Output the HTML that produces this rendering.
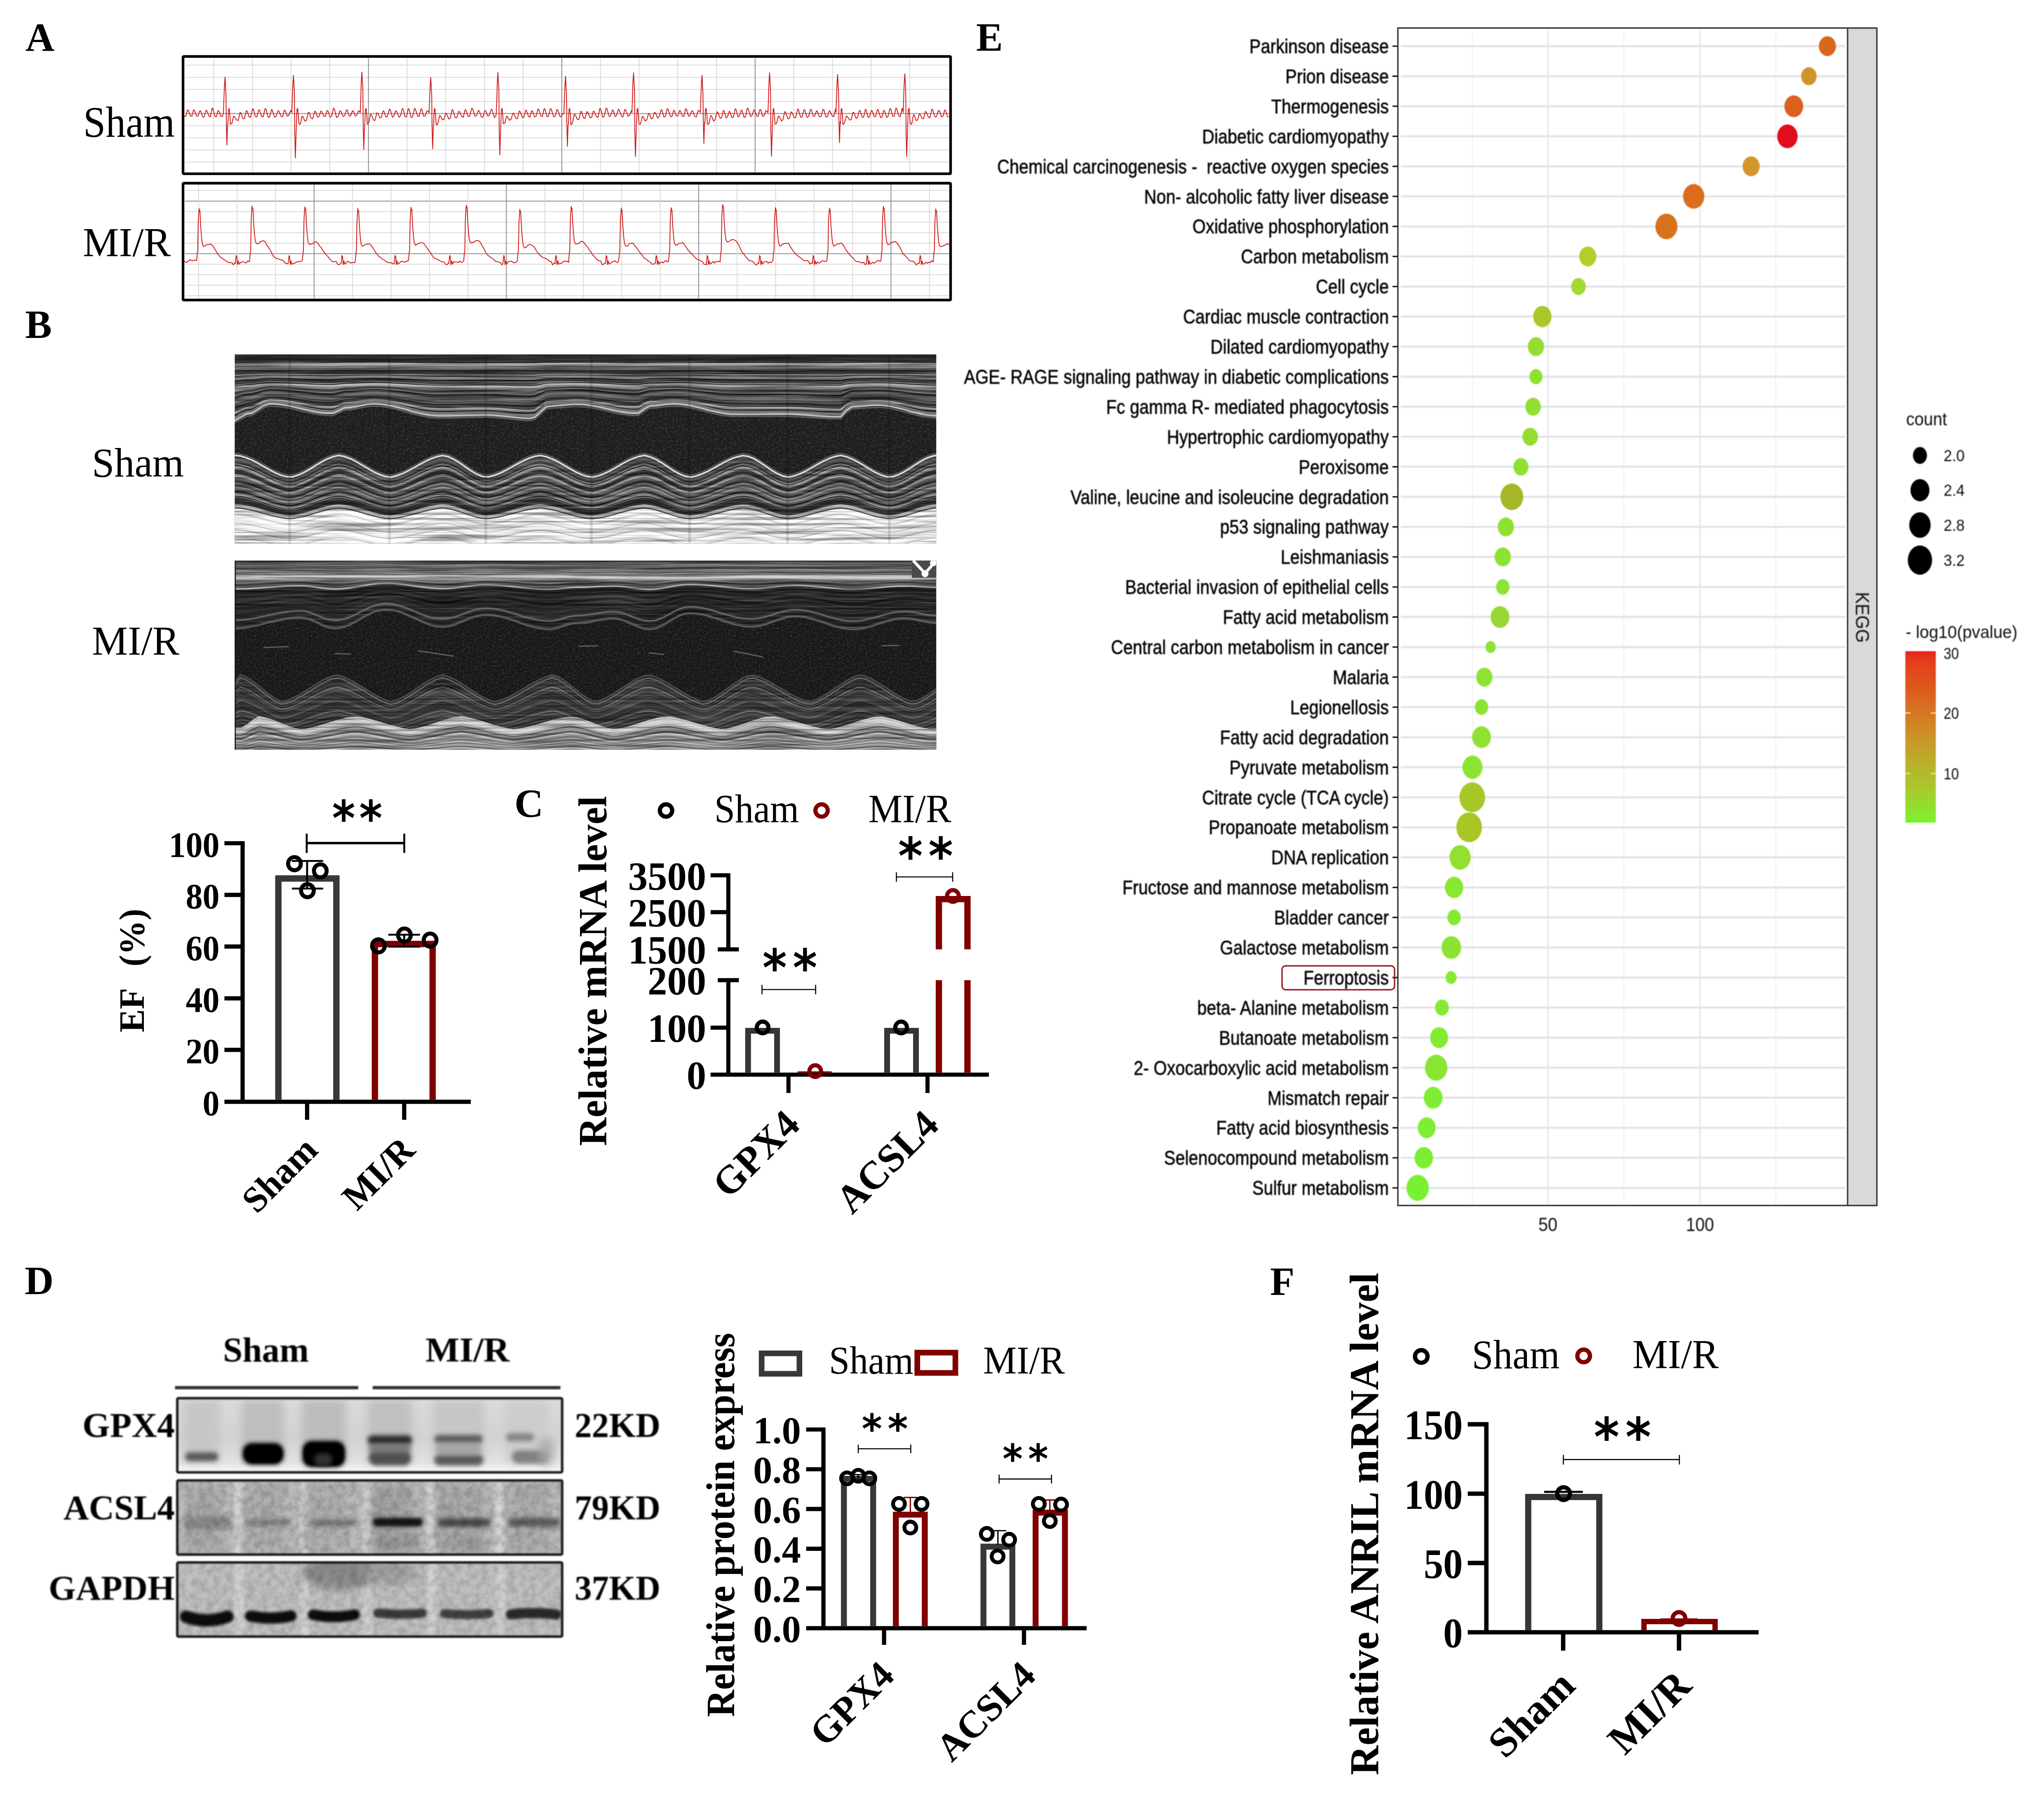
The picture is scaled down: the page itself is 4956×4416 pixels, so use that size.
<!DOCTYPE html>
<html lang="en"><head><meta charset="utf-8"><title>Figure</title>
<style>
html,body{margin:0;padding:0;background:#fff}
svg{display:block}
</style></head><body>
<svg width="4956" height="4416" viewBox="0 0 4956 4416">
<rect width="4956" height="4416" fill="#fff"/>
<!-- Panel A: ECG -->
<g id="panelA">
<text x="62" y="123" font-family='"Liberation Serif",serif' font-size="97" font-weight="bold">A</text>
<text x="202" y="332" font-family='"Liberation Serif",serif' font-size="106" textLength="222" lengthAdjust="spacingAndGlyphs">Sham</text>
<text x="201" y="621" font-family='"Liberation Serif",serif' font-size="100" textLength="213" lengthAdjust="spacingAndGlyphs">MI/R</text>
<path d="M449 158H2303" stroke="#d9d9d9" stroke-width="2"/>
<path d="M449 187.4H2303" stroke="#d9d9d9" stroke-width="2"/>
<path d="M449 216.8H2303" stroke="#d9d9d9" stroke-width="2"/>
<path d="M449 246.2H2303" stroke="#d9d9d9" stroke-width="2"/>
<path d="M449 275.6H2303" stroke="#8a8a8a" stroke-width="2"/>
<path d="M449 305H2303" stroke="#d9d9d9" stroke-width="2"/>
<path d="M449 334.4H2303" stroke="#d9d9d9" stroke-width="2"/>
<path d="M449 363.8H2303" stroke="#d9d9d9" stroke-width="2"/>
<path d="M449 393.2H2303" stroke="#d9d9d9" stroke-width="2"/>
<path d="M518.6 141V417.6" stroke="#d9d9d9" stroke-width="2"/>
<path d="M612.4 141V417.6" stroke="#d9d9d9" stroke-width="2"/>
<path d="M706.2 141V417.6" stroke="#d9d9d9" stroke-width="2"/>
<path d="M800 141V417.6" stroke="#d9d9d9" stroke-width="2"/>
<path d="M893.8 141V417.6" stroke="#8a8a8a" stroke-width="2"/>
<path d="M987.6 141V417.6" stroke="#d9d9d9" stroke-width="2"/>
<path d="M1081.4 141V417.6" stroke="#d9d9d9" stroke-width="2"/>
<path d="M1175.2 141V417.6" stroke="#d9d9d9" stroke-width="2"/>
<path d="M1269 141V417.6" stroke="#d9d9d9" stroke-width="2"/>
<path d="M1362.8 141V417.6" stroke="#8a8a8a" stroke-width="2"/>
<path d="M1456.6 141V417.6" stroke="#d9d9d9" stroke-width="2"/>
<path d="M1550.4 141V417.6" stroke="#d9d9d9" stroke-width="2"/>
<path d="M1644.2 141V417.6" stroke="#d9d9d9" stroke-width="2"/>
<path d="M1738 141V417.6" stroke="#d9d9d9" stroke-width="2"/>
<path d="M1831.8 141V417.6" stroke="#8a8a8a" stroke-width="2"/>
<path d="M1925.6 141V417.6" stroke="#d9d9d9" stroke-width="2"/>
<path d="M2019.4 141V417.6" stroke="#d9d9d9" stroke-width="2"/>
<path d="M2113.2 141V417.6" stroke="#d9d9d9" stroke-width="2"/>
<path d="M2207 141V417.6" stroke="#d9d9d9" stroke-width="2"/>
<path d="M447 281.6 L450.5 282.6 L454.6 266.7 L456.6 267.7 L461.9 281.2 L465.4 282 L469.4 266.4 L471.4 267.4 L476.6 281.4 L480.1 281.7 L484.9 268.5 L486.9 269.5 L491.6 283.5 L495.1 283.8 L499.7 267.4 L501.7 268.4 L506.7 281.2 L510.2 283.4 L514.5 262.2 L516.5 263.2 L521.3 282.2 L524.8 283.3 L528.9 268.2 L530.9 269.2 L536.3 282.5 L539.8 282.2 L542 273 L543 245 L544.5 207 L546 187 L547.2 212 L548.2 227 L549 292 L549.5 312 L550.5 352 L552 302 L553 300 L554.5 265 L556 263 L558 283 L559 301.7 L562.5 299.7 L566.8 282 L568.8 283 L574.2 291.2 L577.7 292.2 L582.4 273 L584.4 274 L589.3 287.7 L592.8 288.1 L597.5 268.6 L599.5 269.6 L604.4 283.8 L607.9 284 L612.7 264 L614.7 265 L619.4 282.3 L622.9 283.8 L627.7 266.5 L629.7 267.5 L635 282.8 L638.5 283.3 L643.1 263.3 L645.1 264.3 L650.5 284.6 L654 284.1 L658.5 266 L660.5 267 L666 283.9 L669.5 282.7 L674.5 268.7 L676.5 269.7 L682.2 282.6 L685.7 282.7 L689.7 267.1 L691.7 268.1 L696.9 281.5 L700.4 280.3 L705.2 267.9 L708 273 L709 245 L710.5 203 L712 183 L713.2 208 L714.2 223 L715 323 L715.5 343 L716.5 383 L718 333 L719 300 L720.5 265 L722 263 L724 283 L725 300.6 L728.5 301.5 L732.6 281.7 L734.6 282.7 L739.8 293.7 L743.3 292.5 L748.1 272.5 L750.1 273.5 L755 287 L758.5 288.1 L763.5 269.8 L765.5 270.8 L770.2 284.2 L773.7 283.2 L778.2 269.6 L780.2 270.6 L785.6 282.2 L789.1 282.8 L793.5 268.1 L795.5 269.1 L800.8 284.3 L804.3 282.6 L808.9 262.8 L810.9 263.8 L816.4 284.9 L819.9 283.4 L824.8 268.8 L826.8 269.8 L832.5 282.7 L836 280.5 L840.6 266.4 L842.6 267.4 L847.2 281.9 L850.7 280.7 L855.1 268.6 L857.1 269.6 L861.7 281.6 L865.2 280.4 L869.5 269 L871.5 270 L874 273 L875 245 L876.5 195 L878 175 L879.2 200 L880.2 215 L881 303 L881.5 323 L882.5 363 L884 313 L885 300 L886.5 265 L888 263 L890 283 L891 301.5 L894.5 298.6 L898.8 277.3 L900.8 278.3 L905.8 290.7 L909.3 292.6 L914.3 273.8 L916.3 274.8 L921.5 285.9 L925 284.9 L929.3 269.2 L931.3 270.2 L936.2 284 L939.7 282.4 L944.7 265 L946.7 266 L951.9 284.3 L955.4 281.2 L960 268.9 L962 269.9 L967.9 284.3 L971.4 281.6 L975.8 263.4 L977.8 264.4 L982.6 283.4 L986.1 283.4 L990.4 263.8 L992.4 264.8 L997.2 285.1 L1000.7 283.6 L1005.5 263.4 L1007.5 264.4 L1013.3 282 L1016.8 282.1 L1021.1 263.9 L1023.1 264.9 L1027.7 282.2 L1031.2 281.1 L1035.9 268.8 L1037.9 269.8 L1041 273 L1042 245 L1043.5 208 L1045 188 L1046.2 213 L1047.2 228 L1048 301 L1048.5 321 L1049.5 361 L1051 311 L1052 300 L1053.5 265 L1055 263 L1057 283 L1058 302.7 L1061.5 302 L1066.5 280.3 L1068.5 281.3 L1073.5 290.8 L1077 289.7 L1081.2 274.6 L1083.2 275.6 L1088.6 288.8 L1092.1 286.4 L1096.8 266.3 L1098.8 267.3 L1104.5 285.8 L1108 285.8 L1112.8 270.1 L1114.8 271.1 L1120.4 282.8 L1123.9 284.2 L1128.2 266.5 L1130.2 267.5 L1135.9 283.1 L1139.4 282.1 L1144.4 262.6 L1146.4 263.6 L1152 281.8 L1155.5 280.9 L1160.4 268 L1162.4 269 L1168.1 284.4 L1171.6 284 L1176.2 268.1 L1178.2 269.1 L1183.3 281.6 L1186.8 280.1 L1191.7 265.2 L1193.7 266.2 L1199.2 284.8 L1202.7 281.8 L1204 273 L1205 245 L1206.5 196 L1208 176 L1209.2 201 L1210.2 216 L1211 316 L1211.5 336 L1212.5 376 L1214 326 L1215 300 L1216.5 265 L1218 263 L1220 283 L1221 300 L1224.5 299.2 L1228.7 281.9 L1230.7 282.9 L1236.1 291.7 L1239.6 289.6 L1244.5 274.4 L1246.5 275.4 L1251.6 287.8 L1255.1 288.1 L1259.5 269.4 L1261.5 270.4 L1267.4 285.3 L1270.9 284.3 L1274.9 267.2 L1276.9 268.2 L1282 282.1 L1285.5 284.3 L1289.7 268.6 L1291.7 269.6 L1296.9 283.8 L1300.4 281.9 L1304.9 264.4 L1306.9 265.4 L1312.3 281.7 L1315.8 282.5 L1320 263.7 L1322 264.7 L1326.9 283.2 L1330.4 282.4 L1335.2 263.7 L1337.2 264.7 L1343.1 283.5 L1346.6 282.1 L1351.1 266 L1353.1 267 L1358.6 283.2 L1362.1 281.9 L1368 273 L1369 245 L1370.5 205 L1372 185 L1373.2 210 L1374.2 225 L1375 295 L1375.5 315 L1376.5 355 L1378 305 L1379 300 L1380.5 265 L1382 263 L1384 283 L1385 302.8 L1388.5 299 L1393.1 277.3 L1395.1 278.3 L1401 290.3 L1404.5 289.2 L1408.9 270.1 L1410.9 271.1 L1415.5 285.8 L1419 287.2 L1423.8 270.9 L1425.8 271.9 L1431.7 286 L1435.2 284.8 L1439.3 269.6 L1441.3 270.6 L1447.1 282.9 L1450.6 284.9 L1455 263.1 L1457 264.1 L1462.3 284.9 L1465.8 281.2 L1470.2 262.5 L1472.2 263.5 L1477.5 282.1 L1481 281.5 L1485.7 266.8 L1487.7 267.8 L1492.2 282.9 L1495.7 280.2 L1500 265.2 L1502 266.2 L1507.5 281.3 L1511 284 L1515.8 265.5 L1517.8 266.5 L1523.7 282.1 L1527.2 280.2 L1532 268.3 L1533 273 L1534 245 L1535.5 197 L1537 177 L1538.2 202 L1539.2 217 L1540 320 L1540.5 340 L1541.5 380 L1543 330 L1544 300 L1545.5 265 L1547 263 L1549 283 L1550 300.7 L1553.5 301.6 L1558.3 282.5 L1560.3 283.5 L1565.2 293.7 L1568.7 291.3 L1573.4 275.2 L1575.4 276.2 L1580 288.3 L1583.5 286.3 L1587.6 272.3 L1589.6 273.3 L1595.5 286.5 L1599 282.6 L1603.9 266.4 L1605.9 267.4 L1610.5 284 L1614 282.5 L1618.5 263.9 L1620.5 264.9 L1626.4 282.1 L1629.9 282.7 L1634.2 267.6 L1636.2 268.6 L1640.8 281.5 L1644.3 281.1 L1648.6 268.1 L1650.6 269.1 L1655.6 282.3 L1659.1 282.1 L1663.3 263.8 L1665.3 264.8 L1670.3 282.1 L1673.8 280.1 L1678.5 268.9 L1680.5 269.9 L1685.9 282.9 L1689.4 283.8 L1693.5 267.7 L1695.5 268.7 L1699 273 L1700 245 L1701.5 203 L1703 183 L1704.2 208 L1705.2 223 L1706 288 L1706.5 308 L1707.5 348 L1709 298 L1710 300 L1711.5 265 L1713 263 L1715 283 L1716 301 L1719.5 301.3 L1723.9 280.4 L1725.9 281.4 L1731.2 294 L1734.7 290.4 L1739.5 271.4 L1741.5 272.4 L1747 287 L1750.5 285.8 L1754.6 268.1 L1756.6 269.1 L1761.3 286.3 L1764.8 283.3 L1769 270.3 L1771 271.3 L1775.6 285.7 L1779.1 283.9 L1783.4 264.1 L1785.4 265.1 L1790.2 283.5 L1793.7 281.2 L1798.2 267.4 L1800.2 268.4 L1805.1 285.2 L1808.6 282.5 L1812.8 262.5 L1814.8 263.5 L1820.8 282.6 L1824.3 280.2 L1828.6 267 L1830.6 268 L1835.9 281.9 L1839.4 282.1 L1843.4 265.5 L1845.4 266.5 L1850.3 282.6 L1853.8 280.2 L1857.8 268.4 L1859.8 269.4 L1863 273 L1864 245 L1865.5 197 L1867 177 L1868.2 202 L1869.2 217 L1870 319 L1870.5 339 L1871.5 379 L1873 329 L1874 300 L1875.5 265 L1877 263 L1879 283 L1880 301.3 L1883.5 300.1 L1888.3 281.8 L1890.3 282.8 L1895.7 293.3 L1899.2 290.4 L1903.6 271 L1905.6 272 L1911.5 288.2 L1915 286.9 L1919.1 271.4 L1921.1 272.4 L1926.8 285.7 L1930.3 285.1 L1935.1 264.5 L1937.1 265.5 L1941.9 284.1 L1945.4 284.4 L1950.2 266.2 L1952.2 267.2 L1957.9 285.1 L1961.4 283.3 L1966.1 265.3 L1968.1 266.3 L1972.9 281.8 L1976.4 281.7 L1980.5 269 L1982.5 270 L1988.3 283.6 L1991.8 282.6 L1996.5 265.2 L1998.5 266.2 L2003.7 284.3 L2007.2 283.1 L2011.7 269 L2013.7 270 L2019 281.3 L2022.5 283 L2026.8 264.4 L2028 273 L2029 245 L2030.5 201 L2032 181 L2033.2 206 L2034.2 221 L2035 286 L2035.5 306 L2036.5 346 L2038 296 L2039 300 L2040.5 265 L2042 263 L2044 283 L2045 301.9 L2048.5 298.8 L2053.2 281.5 L2055.2 282.5 L2061.2 291.1 L2064.7 290.5 L2069.4 272.4 L2071.4 273.4 L2077 287.8 L2080.5 284.5 L2084.7 268 L2086.7 269 L2091.6 284.4 L2095.1 284.4 L2099.1 265.5 L2101.1 266.5 L2105.7 284.8 L2109.2 283.9 L2113.8 268 L2115.8 269 L2120.8 283.4 L2124.3 282.4 L2128.4 265.8 L2130.4 266.8 L2136.2 285.2 L2139.7 284 L2143.8 267.8 L2145.8 268.8 L2150.9 285 L2154.4 281.9 L2158.7 263.4 L2160.7 264.4 L2165.5 281.9 L2169 282.4 L2173.2 262.4 L2175.2 263.4 L2180.5 281.6 L2184 283.3 L2188.5 262.4 L2191 273 L2192 245 L2193.5 199 L2195 179 L2196.2 204 L2197.2 219 L2198 320 L2198.5 340 L2199.5 380 L2201 330 L2202 300 L2203.5 265 L2205 263 L2207 283 L2208 299.9 L2211.5 301.6 L2216 278.5 L2218 279.5 L2222.5 292.3 L2226 291.1 L2230.3 276.4 L2232.3 277.4 L2237 287.1 L2240.5 288.2 L2244.5 270.4 L2246.5 271.4 L2252.2 283.9 L2255.7 286.1 L2260.4 265.1 L2262.4 266.1 L2268.2 283.7 L2271.7 282.7 L2276.7 267.9 L2278.7 268.9 L2284.1 283.3 L2287.6 281.7 L2291.7 266.9 L2293.7 267.9 L2298.3 282.4 L2301.8 284" fill="none" stroke="#cf1616" stroke-width="2" stroke-linejoin="round"/>
<rect x="444" y="137" width="1862" height="284.6" fill="none" stroke="#000" stroke-width="6.4" rx="2"/>
<path d="M449 462H2303" stroke="#d9d9d9" stroke-width="2"/>
<path d="M449 488H2303" stroke="#8a8a8a" stroke-width="2"/>
<path d="M449 513.5H2303" stroke="#d9d9d9" stroke-width="2"/>
<path d="M449 539H2303" stroke="#d9d9d9" stroke-width="2"/>
<path d="M449 564.5H2303" stroke="#d9d9d9" stroke-width="2"/>
<path d="M449 590H2303" stroke="#d9d9d9" stroke-width="2"/>
<path d="M449 615.5H2303" stroke="#8a8a8a" stroke-width="2"/>
<path d="M449 641H2303" stroke="#d9d9d9" stroke-width="2"/>
<path d="M449 666.5H2303" stroke="#d9d9d9" stroke-width="2"/>
<path d="M449 692H2303" stroke="#d9d9d9" stroke-width="2"/>
<path d="M449 717.5H2303" stroke="#d9d9d9" stroke-width="2"/>
<path d="M482 448V724" stroke="#d9d9d9" stroke-width="2"/>
<path d="M575.3 448V724" stroke="#d9d9d9" stroke-width="2"/>
<path d="M668.6 448V724" stroke="#d9d9d9" stroke-width="2"/>
<path d="M761.9 448V724" stroke="#8a8a8a" stroke-width="2"/>
<path d="M855.2 448V724" stroke="#d9d9d9" stroke-width="2"/>
<path d="M948.5 448V724" stroke="#d9d9d9" stroke-width="2"/>
<path d="M1041.8 448V724" stroke="#d9d9d9" stroke-width="2"/>
<path d="M1135.1 448V724" stroke="#d9d9d9" stroke-width="2"/>
<path d="M1228.4 448V724" stroke="#8a8a8a" stroke-width="2"/>
<path d="M1321.7 448V724" stroke="#d9d9d9" stroke-width="2"/>
<path d="M1415 448V724" stroke="#d9d9d9" stroke-width="2"/>
<path d="M1508.3 448V724" stroke="#d9d9d9" stroke-width="2"/>
<path d="M1601.6 448V724" stroke="#d9d9d9" stroke-width="2"/>
<path d="M1694.9 448V724" stroke="#8a8a8a" stroke-width="2"/>
<path d="M1788.2 448V724" stroke="#d9d9d9" stroke-width="2"/>
<path d="M1881.5 448V724" stroke="#d9d9d9" stroke-width="2"/>
<path d="M1974.8 448V724" stroke="#d9d9d9" stroke-width="2"/>
<path d="M2068.1 448V724" stroke="#d9d9d9" stroke-width="2"/>
<path d="M2161.4 448V724" stroke="#8a8a8a" stroke-width="2"/>
<path d="M2254.7 448V724" stroke="#d9d9d9" stroke-width="2"/>
<path d="M447 634 L452 637 L456 634 L461 630 L466 633 L472 631 L477 632 L478.5 614 L479.5 610 L481 536 L483 506 L484 512 L485 511 L487 551 L489 576 L491 592 L494 598 L498 596.1 L502 593.6 L507 593.4 L511 592.2 L515 594.9 L519 600.4 L523 607.2 L527 614.4 L531 619.7 L535 624.7 L539 626.2 L543 630.1 L547 632.2 L551 635.1 L555 637.1 L559 637.2 L562.5 637.3 L566 642.6 L569.5 637.8 L571 639 L573 620 L574.5 622 L576 642 L578 633 L580 641 L583.5 637.2 L587 635.9 L590.5 635.1 L594 637.2 L597.5 638 L601 633.2 L604.5 635 L605.5 632 L607 614 L608 610 L609.5 530 L611.5 500 L612.5 506 L613.5 505 L615.5 545 L617.5 570 L619.5 586 L622.5 591.4 L626.5 591.2 L630.5 587.7 L635.5 585 L639.5 584 L643.5 587.1 L647.5 595.2 L651.5 600 L655.5 606.6 L659.5 614.7 L663.5 621.8 L667.5 625.3 L671.5 627 L675.5 628.6 L679.5 629.5 L683.5 631.3 L687.5 631.7 L691 638.4 L694.5 638.6 L698 640.4 L699.1 639 L701.1 620 L702.6 622 L704.1 642 L706.1 633 L708.1 641 L711.6 639.7 L715.1 638.3 L718.6 635.7 L722.1 635.2 L725.6 635.3 L729.1 633.9 L732.6 633.1 L733.5 632 L735 614 L736 610 L737.5 532 L739.5 502 L740.5 508 L741.5 507 L743.5 547 L745.5 572 L747.5 588 L750.5 592.7 L754.5 592.3 L758.5 591.4 L763.5 586.9 L767.5 587 L771.5 590.4 L775.5 597.1 L779.5 601.1 L783.5 608.4 L787.5 613.6 L791.5 618.5 L795.5 622.6 L799.5 628.1 L803.5 632.1 L807.5 635.5 L811.5 634.9 L815.5 634.5 L819 641.3 L822.5 642.4 L826 639.8 L827.5 639 L829.5 620 L831 622 L832.5 642 L834.5 633 L836.5 641 L840 637.9 L843.5 633.8 L847 635.6 L850.5 638.3 L854 637.1 L857.5 636.8 L861 636.9 L862 632 L863.5 614 L864.5 610 L866 536 L868 506 L869 512 L870 511 L872 551 L874 576 L876 592 L879 597.2 L883 595.8 L887 593 L892 592.1 L896 591.5 L900 595.3 L904 600.7 L908 606.4 L912 613.7 L916 618.7 L920 623.3 L924 624.9 L928 629.3 L932 630.6 L936 634.5 L940 636.6 L944 636.9 L947.5 637.8 L951 638.5 L954.5 640.8 L956.3 639 L958.3 620 L959.8 622 L961.3 642 L963.3 633 L965.3 641 L968.8 638.6 L972.3 634.5 L975.8 633.7 L979.3 635.9 L982.8 635.7 L986.3 634 L989.8 632.5 L991 632 L992.5 614 L993.5 610 L995 533 L997 503 L998 509 L999 508 L1001 548 L1003 573 L1005 589 L1008 595.3 L1012 592.5 L1016 590.4 L1021 588.9 L1025 589.4 L1029 591.4 L1033 598.2 L1037 602.9 L1041 609.1 L1045 614.1 L1049 621.1 L1053 625.9 L1057 628.1 L1061 628.9 L1065 631.4 L1069 634.1 L1073 635.3 L1077 635.7 L1080.5 641 L1084 642.6 L1087.5 638.4 L1088.8 639 L1090.8 620 L1092.3 622 L1093.8 642 L1095.8 633 L1097.8 641 L1101.3 634.6 L1104.8 635.9 L1108.3 635.9 L1111.8 637 L1115.3 633.5 L1118.8 636.6 L1122.3 635.7 L1125 632 L1126.5 614 L1127.5 610 L1129 528 L1131 498 L1132 504 L1133 503 L1135 543 L1137 568 L1139 584 L1142 590 L1146 588.1 L1150 587.4 L1155 583.4 L1159 584 L1163 585.2 L1167 591.2 L1171 598.8 L1175 605.2 L1179 613.8 L1183 619 L1187 622 L1191 624.7 L1195 627.6 L1199 631 L1203 634.9 L1207 634.9 L1211 635.9 L1214.5 638.3 L1218 642.8 L1220 639 L1222 620 L1223.5 622 L1225 642 L1227 633 L1229 641 L1232.5 635.2 L1236 634.2 L1239.5 633.7 L1243 635.1 L1246.5 637.6 L1250 637 L1253.5 635.6 L1255 632 L1256.5 614 L1257.5 610 L1259 538 L1261 508 L1262 514 L1263 513 L1265 553 L1267 578 L1269 594 L1272 601.5 L1276 600.3 L1280 595.5 L1285 593.1 L1289 594.3 L1293 596.7 L1297 600.6 L1301 608.5 L1305 613.8 L1309 618.5 L1313 622.2 L1317 624.6 L1321 625.9 L1325 628 L1329 630.1 L1333 634.2 L1337 634.2 L1340.5 642.8 L1344 638.2 L1347.5 639.1 L1346.2 639 L1348.2 620 L1349.7 622 L1351.2 642 L1353.2 633 L1355.2 641 L1358.7 639.2 L1362.2 638.7 L1365.7 635.8 L1369.2 632.9 L1372.7 634.9 L1376.2 633.7 L1379.7 636.5 L1379.6 632 L1381.1 614 L1382.1 610 L1383.6 531 L1385.6 501 L1386.6 507 L1387.6 506 L1389.6 546 L1391.6 571 L1393.6 587 L1396.6 592.1 L1400.6 591.6 L1404.6 590.2 L1409.6 585.6 L1413.6 585.7 L1417.6 589.9 L1421.6 595.8 L1425.6 599.6 L1429.6 606.7 L1433.6 611.4 L1437.6 618.7 L1441.6 622.1 L1445.6 626.8 L1449.6 631.3 L1453.6 632.7 L1457.6 633.6 L1461.1 642.7 L1464.6 640.7 L1468.1 638.6 L1468.6 639 L1470.6 620 L1472.1 622 L1473.6 642 L1475.6 633 L1477.6 641 L1481.1 638.6 L1484.6 635.6 L1488.1 634.8 L1491.6 632.6 L1495.1 636.5 L1498.6 636.9 L1501 632 L1502.5 614 L1503.5 610 L1505 535 L1507 505 L1508 511 L1509 510 L1511 550 L1513 575 L1515 591 L1518 597.4 L1522 597.3 L1526 591.6 L1531 590.2 L1535 589.9 L1539 594.4 L1543 600.4 L1547 604.7 L1551 610.8 L1555 616.3 L1559 621 L1563 626.7 L1567 628.3 L1571 632.1 L1575 635 L1579 637.7 L1582.5 641.6 L1586 640.6 L1589.5 639 L1589.7 639 L1591.7 620 L1593.2 622 L1594.7 642 L1596.7 633 L1598.7 641 L1602.2 636.2 L1605.7 635.9 L1609.2 637.8 L1612.7 633 L1616.2 633.1 L1619.7 635.9 L1622 632 L1623.5 614 L1624.5 610 L1626 534 L1628 504 L1629 510 L1630 509 L1632 549 L1634 574 L1636 590 L1639 595.2 L1643 593.7 L1647 590.6 L1652 590.2 L1656 588.5 L1660 593.4 L1664 599.2 L1668 605.5 L1672 610 L1676 614.3 L1680 617.8 L1684 622.3 L1688 626.8 L1692 629.5 L1696 630.8 L1700 632.6 L1704 634.9 L1707.5 641 L1711 641.5 L1714.5 642.1 L1713.5 639 L1715.5 620 L1717 622 L1718.5 642 L1720.5 633 L1722.5 641 L1726 638.3 L1729.5 634.5 L1733 638.2 L1736.5 634.4 L1740 635.5 L1743.5 633.8 L1747 635.4 L1747 632 L1748.5 614 L1749.5 610 L1751 526 L1753 496 L1754 502 L1755 501 L1757 541 L1759 566 L1761 582 L1764 587.1 L1768 586.2 L1772 583.2 L1777 581 L1781 582.2 L1785 584.2 L1789 589.5 L1793 595.7 L1797 606.4 L1801 613 L1805 617.3 L1809 623.1 L1813 627.2 L1817 632 L1821 632.4 L1825 634.1 L1829 637 L1832.5 642 L1836 642.5 L1839.5 637.2 L1840.6 639 L1842.6 620 L1844.1 622 L1845.6 642 L1847.6 633 L1849.6 641 L1853.1 636.1 L1856.6 634.5 L1860.1 634.4 L1863.6 638.6 L1867.1 635.7 L1870.6 637.2 L1874.1 633.3 L1875 632 L1876.5 614 L1877.5 610 L1879 534 L1881 504 L1882 510 L1883 509 L1885 549 L1887 574 L1889 590 L1892 597.1 L1896 594.8 L1900 591.3 L1905 590.8 L1909 590.3 L1913 590.8 L1917 598.3 L1921 604.4 L1925 609.9 L1929 615.3 L1933 618.8 L1937 621.9 L1941 624.7 L1945 628.3 L1949 631.5 L1953 632.4 L1957 632.3 L1961 633.5 L1964.5 641.1 L1968 638.1 L1971.5 638.9 L1970.7 639 L1972.7 620 L1974.2 622 L1975.7 642 L1977.7 633 L1979.7 641 L1983.2 635.6 L1986.7 638.6 L1990.2 636.6 L1993.7 633.2 L1997.2 632.9 L2000.7 634.1 L2004.2 634.5 L2006 632 L2007.5 614 L2008.5 610 L2010 535 L2012 505 L2013 511 L2014 510 L2016 550 L2018 575 L2020 591 L2023 597.4 L2027 594.8 L2031 592 L2036 591.6 L2040 589.7 L2044 592.3 L2048 598.4 L2052 606.4 L2056 611 L2060 617 L2064 621.1 L2068 624.7 L2072 629.4 L2076 633.8 L2080 634.9 L2084 635.1 L2088 637.4 L2092 637.2 L2095.5 637 L2099 642.4 L2102.5 639.5 L2101.7 639 L2103.7 620 L2105.2 622 L2106.7 642 L2108.7 633 L2110.7 641 L2114.2 639.3 L2117.7 636.3 L2121.2 638.6 L2124.7 635.6 L2128.2 633.2 L2131.7 631.8 L2135.2 634.5 L2137 632 L2138.5 614 L2139.5 610 L2141 531 L2143 501 L2144 507 L2145 506 L2147 546 L2149 571 L2151 587 L2154 593.4 L2158 593.2 L2162 587.8 L2167 587.4 L2171 585.6 L2175 589 L2179 593.9 L2183 600.3 L2187 608.6 L2191 616.5 L2195 619.6 L2199 623.8 L2203 628.4 L2207 632.9 L2211 633.4 L2215 633.6 L2219 637 L2222.5 642.9 L2226 639.9 L2229.5 637.3 L2229.9 639 L2231.9 620 L2233.4 622 L2234.9 642 L2236.9 633 L2238.9 641 L2242.4 639.9 L2245.9 636.1 L2249.4 638.7 L2252.9 636.4 L2256.4 637.1 L2259.9 632.6 L2263.4 635.8 L2264 632 L2265.5 614 L2266.5 610 L2268 537 L2270 507 L2271 513 L2272 512 L2274 552 L2276 577 L2278 593 L2281 598.2 L2285 597.7 L2289 596 L2294 594 L2298 591 L2302 594.2" fill="none" stroke="#cf1616" stroke-width="2" stroke-linejoin="round"/>
<rect x="444" y="444.5" width="1862" height="283.5" fill="none" stroke="#000" stroke-width="6.4" rx="2"/>
</g>
<!-- Panel B -->
<g id="panelB">
<text x="61" y="820" font-family='"Liberation Serif",serif' font-size="97" font-weight="bold">B</text>
<text x="223" y="1156" font-family='"Liberation Serif",serif' font-size="100" textLength="223" lengthAdjust="spacingAndGlyphs">Sham</text>
<text x="223" y="1588" font-family='"Liberation Serif",serif' font-size="100" textLength="212" lengthAdjust="spacingAndGlyphs">MI/R</text>
<defs>
<clipPath id="cpS"><rect x="569.5" y="859.8" width="1701.8" height="458.8"/></clipPath>
<path id="sLw" d="M499.5 -26.5 L513.5 -26.5 L527.5 -26.5 L541.5 -26.5 L555.5 -26.5 L569.5 -26.5 L583.5 -25 L597.5 -20.9 L611.5 -15 L625.5 -7.7 L639.5 0.3 L653.5 8.3 L667.5 15.5 L681.5 21.3 L695.5 25.3 L709.5 25.4 L723.5 21.1 L737.5 14.7 L751.5 6.8 L765.5 -1.9 L779.5 -10.3 L793.5 -17.7 L807.5 -23.2 L821.5 -26.4 L835.5 -23.7 L849.5 -18.6 L863.5 -11.7 L877.5 -3.6 L891.5 4.8 L905.5 12.7 L919.5 19.4 L933.5 24.2 L947.5 26.2 L961.5 23 L975.5 18 L989.5 11.3 L1003.5 3.7 L1017.5 -4.3 L1031.5 -11.8 L1045.5 -18.4 L1059.5 -23.3 L1073.5 -26.3 L1087.5 -23.3 L1101.5 -16.8 L1115.5 -8.1 L1129.5 1.8 L1143.5 11.4 L1157.5 19.4 L1171.5 24.9 L1185.5 25.5 L1199.5 21.8 L1213.5 16.3 L1227.5 9.4 L1241.5 1.7 L1255.5 -6.2 L1269.5 -13.5 L1283.5 -19.7 L1297.5 -24.2 L1311.5 -26.3 L1325.5 -23.1 L1339.5 -17.9 L1353.5 -10.9 L1367.5 -3 L1381.5 5.3 L1395.5 13.1 L1409.5 19.6 L1423.5 24.3 L1437.5 26.2 L1451.5 22.9 L1465.5 17.8 L1479.5 11 L1493.5 3.2 L1507.5 -4.9 L1521.5 -12.5 L1535.5 -19 L1549.5 -23.8 L1563.5 -26.4 L1577.5 -22.8 L1591.5 -16.6 L1605.5 -8.3 L1619.5 1 L1633.5 10.2 L1647.5 18.1 L1661.5 23.8 L1675.5 26.2 L1689.5 23.1 L1703.5 18.1 L1717.5 11.7 L1731.5 4.2 L1745.5 -3.6 L1759.5 -11.2 L1773.5 -17.7 L1787.5 -22.8 L1801.5 -26 L1815.5 -24 L1829.5 -18.1 L1843.5 -9.9 L1857.5 -0.3 L1871.5 9.3 L1885.5 17.6 L1899.5 23.7 L1913.5 26.2 L1927.5 22.9 L1941.5 17.8 L1955.5 11 L1969.5 3.2 L1983.5 -4.9 L1997.5 -12.5 L2011.5 -19 L2025.5 -23.8 L2039.5 -26.4 L2053.5 -23.2 L2067.5 -17.7 L2081.5 -10.3 L2095.5 -1.9 L2109.5 6.8 L2123.5 14.7 L2137.5 21.1 L2151.5 25.4 L2165.5 25 L2179.5 20.3 L2193.5 13.2 L2207.5 4.6 L2221.5 -4.6 L2235.5 -13.2 L2249.5 -20.3 L2263.5 -25 L2271.3 -26.5" fill="none" vector-effect="non-scaling-stroke"/>
<path id="sUw" d="M499.5 25 L513.5 25 L527.5 25 L541.5 25 L555.5 25 L569.5 24.4 L583.5 16.3 L597.5 9.2 L611.5 6.4 L625.5 -2.1 L639.5 -11.4 L653.5 -16 L667.5 -15.6 L681.5 -14.3 L695.5 -12.1 L709.5 -9.2 L723.5 -6 L737.5 -2.6 L751.5 0.6 L765.5 3.4 L779.5 5.5 L793.5 6.7 L807.5 6.7 L821.5 0.9 L835.5 -6 L849.5 -7.3 L863.5 -9.3 L877.5 -12.4 L891.5 -15 L905.5 -16 L919.5 -15.4 L933.5 -13.9 L947.5 -11.4 L961.5 -8.2 L975.5 -4.6 L989.5 -0.7 L1003.5 3.2 L1017.5 6.7 L1031.5 9.6 L1045.5 11.7 L1059.5 12.8 L1073.5 13 L1087.5 12.9 L1101.5 12.6 L1115.5 12.2 L1129.5 11.8 L1143.5 11.5 L1157.5 11.2 L1171.5 11 L1185.5 11.1 L1199.5 11.6 L1213.5 12.7 L1227.5 14.2 L1241.5 15.8 L1255.5 17.3 L1269.5 18.4 L1283.5 18.9 L1297.5 16.3 L1311.5 3.5 L1325.5 -8.9 L1339.5 -11.1 L1353.5 -11.9 L1367.5 -13.1 L1381.5 -14.3 L1395.5 -15 L1409.5 -14.7 L1423.5 -13.5 L1437.5 -11.4 L1451.5 -8.7 L1465.5 -5.5 L1479.5 -2.2 L1493.5 0.9 L1507.5 3.6 L1521.5 5.6 L1535.5 6.8 L1549.5 6.2 L1563.5 -3.7 L1577.5 -11 L1591.5 -11.7 L1605.5 -13.5 L1619.5 -15.3 L1633.5 -16 L1647.5 -15.4 L1661.5 -13.8 L1675.5 -11.4 L1689.5 -8.2 L1703.5 -4.7 L1717.5 -1 L1731.5 2.4 L1745.5 5.3 L1759.5 7.5 L1773.5 8.8 L1787.5 9 L1801.5 9 L1815.5 9 L1829.5 9 L1843.5 9 L1857.5 9 L1871.5 9 L1885.5 9 L1899.5 9 L1913.5 9.1 L1927.5 9.6 L1941.5 10.2 L1955.5 11.1 L1969.5 12 L1983.5 12.9 L1997.5 13.8 L2011.5 14.4 L2025.5 14.9 L2039.5 15 L2053.5 0 L2067.5 -9 L2081.5 -9.7 L2095.5 -11 L2109.5 -12.3 L2123.5 -13 L2137.5 -12.7 L2151.5 -11.3 L2165.5 -8.9 L2179.5 -5.7 L2193.5 -2.1 L2207.5 1.8 L2221.5 5.5 L2235.5 8.7 L2249.5 11.1 L2263.5 12.6 L2271.3 13" fill="none" vector-effect="non-scaling-stroke"/>
<filter id="fStreak" x="0" y="0" width="100%" height="100%" color-interpolation-filters="sRGB">
<feTurbulence type="fractalNoise" baseFrequency="0.004 0.16" numOctaves="3" seed="5" result="n"/>
<feColorMatrix in="n" type="matrix" values="0 0 0 0 0  0 0 0 0 0  0 0 0 0 0  3.2 0 0 0 -1.35"/>
</filter>
<filter id="fStreakW" x="0" y="0" width="100%" height="100%" color-interpolation-filters="sRGB">
<feTurbulence type="fractalNoise" baseFrequency="0.005 0.2" numOctaves="2" seed="11" result="n"/>
<feColorMatrix in="n" type="matrix" values="0 0 0 0 1  0 0 0 0 1  0 0 0 0 1  2.6 0 0 0 -1.3"/>
</filter>
<filter id="fSpeck" x="0" y="0" width="100%" height="100%" color-interpolation-filters="sRGB">
<feTurbulence type="fractalNoise" baseFrequency="0.22 0.22" numOctaves="2" seed="2" result="n"/>
<feColorMatrix in="n" type="matrix" values="0 0 0 0 1  0 0 0 0 1  0 0 0 0 1  1.6 0 0 0 -0.72"/>
</filter>
</defs>
<g clip-path="url(#cpS)">
<rect x="569.5" y="859.8" width="1701.8" height="458.8" fill="#5c5c5c"/>
<rect x="569.5" y="859.8" width="1701.8" height="22" fill="#2e2e2e"/>
<use href="#sUw" transform="translate(0,862.8) scale(1,0.00)" stroke="#2c2c2c" stroke-width="3.5"/>
<use href="#sUw" transform="translate(0,865.9) scale(1,0.00)" stroke="#232323" stroke-width="2.9"/>
<use href="#sUw" transform="translate(0,868.6) scale(1,0.00)" stroke="#272727" stroke-width="3.2"/>
<use href="#sUw" transform="translate(0,871.4) scale(1,0.00)" stroke="#272727" stroke-width="2.2"/>
<use href="#sUw" transform="translate(0,873.4) scale(1,0.00)" stroke="#111111" stroke-width="4.3"/>
<use href="#sUw" transform="translate(0,877.2) scale(1,0.00)" stroke="#535353" stroke-width="2.6"/>
<use href="#sUw" transform="translate(0,879.6) scale(1,0.00)" stroke="#2c2c2c" stroke-width="2.5"/>
<use href="#sUw" transform="translate(0,881.8) scale(1,0.00)" stroke="#585858" stroke-width="3.2"/>
<use href="#sUw" transform="translate(0,884.7) scale(1,0.00)" stroke="#a8a8a8" stroke-width="3.4"/>
<use href="#sUw" transform="translate(0,887.7) scale(1,0.00)" stroke="#848484" stroke-width="3.6"/>
<use href="#sUw" transform="translate(0,891) scale(1,0.00)" stroke="#404040" stroke-width="2.6"/>
<use href="#sUw" transform="translate(0,893.3) scale(1,0.00)" stroke="#404040" stroke-width="4.2"/>
<use href="#sUw" transform="translate(0,897) scale(1,0.00)" stroke="#383838" stroke-width="3"/>
<use href="#sUw" transform="translate(0,899.7) scale(1,0.01)" stroke="#202020" stroke-width="3.7"/>
<use href="#sUw" transform="translate(0,903) scale(1,0.03)" stroke="#303030" stroke-width="2.4"/>
<use href="#sUw" transform="translate(0,905.2) scale(1,0.04)" stroke="#484848" stroke-width="2.1"/>
<use href="#sUw" transform="translate(0,907.1) scale(1,0.05)" stroke="#1c1c1c" stroke-width="2.1"/>
<use href="#sUw" transform="translate(0,909) scale(1,0.07)" stroke="#a8a8a8" stroke-width="2.7"/>
<use href="#sUw" transform="translate(0,911.4) scale(1,0.08)" stroke="#484848" stroke-width="3.8"/>
<use href="#sUw" transform="translate(0,914.8) scale(1,0.11)" stroke="#848484" stroke-width="3.8"/>
<use href="#sUw" transform="translate(0,918.2) scale(1,0.13)" stroke="#848484" stroke-width="3"/>
<use href="#sUw" transform="translate(0,920.9) scale(1,0.15)" stroke="#1c1c1c" stroke-width="3.4"/>
<use href="#sUw" transform="translate(0,924) scale(1,0.18)" stroke="#404040" stroke-width="4.2"/>
<use href="#sUw" transform="translate(0,927.8) scale(1,0.21)" stroke="#303030" stroke-width="2.1"/>
<use href="#sUw" transform="translate(0,929.6) scale(1,0.22)" stroke="#989898" stroke-width="2.5"/>
<use href="#sUw" transform="translate(0,931.9) scale(1,0.24)" stroke="#282828" stroke-width="3.1"/>
<use href="#sUw" transform="translate(0,934.7) scale(1,0.27)" stroke="#282828" stroke-width="4.1"/>
<use href="#sUw" transform="translate(0,938.4) scale(1,0.30)" stroke="#848484" stroke-width="3.3"/>
<use href="#sUw" transform="translate(0,941.4) scale(1,0.33)" stroke="#848484" stroke-width="3.4"/>
<use href="#sUw" transform="translate(0,944.5) scale(1,0.36)" stroke="#383838" stroke-width="3.5"/>
<use href="#sUw" transform="translate(0,947.6) scale(1,0.39)" stroke="#484848" stroke-width="2.6"/>
<use href="#sUw" transform="translate(0,949.9) scale(1,0.41)" stroke="#707070" stroke-width="3.7"/>
<use href="#sUw" transform="translate(0,953.2) scale(1,0.45)" stroke="#202020" stroke-width="4.1"/>
<use href="#sUw" transform="translate(0,957) scale(1,0.48)" stroke="#484848" stroke-width="3.7"/>
<use href="#sUw" transform="translate(0,960.3) scale(1,0.52)" stroke="#404040" stroke-width="3.7"/>
<use href="#sUw" transform="translate(0,963.6) scale(1,0.55)" stroke="#707070" stroke-width="4.4"/>
<use href="#sUw" transform="translate(0,967.6) scale(1,0.59)" stroke="#484848" stroke-width="3.4"/>
<use href="#sUw" transform="translate(0,970.7) scale(1,0.63)" stroke="#585858" stroke-width="3.6"/>
<use href="#sUw" transform="translate(0,974) scale(1,0.66)" stroke="#282828" stroke-width="4.1"/>
<use href="#sUw" transform="translate(0,977.6) scale(1,0.70)" stroke="#484848" stroke-width="2.7"/>
<use href="#sUw" transform="translate(0,980) scale(1,0.73)" stroke="#303030" stroke-width="2.2"/>
<use href="#sUw" transform="translate(0,982) scale(1,0.75)" stroke="#a8a8a8" stroke-width="3.6"/>
<use href="#sUw" transform="translate(0,985.2) scale(1,0.79)" stroke="#989898" stroke-width="2.2"/>
<use href="#sUw" transform="translate(0,987.2) scale(1,0.81)" stroke="#1c1c1c" stroke-width="2.2"/>
<use href="#sUw" transform="translate(0,989.2) scale(1,0.84)" stroke="#404040" stroke-width="2.1"/>
<use href="#sUw" transform="translate(0,991) scale(1,0.86)" stroke="#848484" stroke-width="3.9"/>
<use href="#sUw" transform="translate(0,994.5) scale(1,0.90)" stroke="#a8a8a8" stroke-width="2.3"/>
<use href="#sUw" transform="translate(0,996.6) scale(1,0.92)" stroke="#484848" stroke-width="3.5"/>
<use href="#sUw" transform="translate(0,884) scale(1,0.03)" stroke="#a8a8a8" stroke-width="7"/>
<use href="#sUw" transform="translate(0,891) scale(1,0.03)" stroke="#7a7a7a" stroke-width="5"/>
<use href="#sUw" transform="translate(0,935) scale(1,0.22)" stroke="#b4b4b4" stroke-width="5"/>
<use href="#sUw" transform="translate(0,960) scale(1,0.5)" stroke="#6e6e6e" stroke-width="4"/>
<use href="#sLw" transform="translate(0,1122.5) scale(1,1.00)" stroke="#202020" stroke-width="2.9"/>
<use href="#sLw" transform="translate(0,1125.2) scale(1,1.00)" stroke="#383838" stroke-width="2.8"/>
<use href="#sLw" transform="translate(0,1127.7) scale(1,1.00)" stroke="#606060" stroke-width="3.3"/>
<use href="#sLw" transform="translate(0,1130.6) scale(1,0.99)" stroke="#202020" stroke-width="2.8"/>
<use href="#sLw" transform="translate(0,1133.1) scale(1,0.98)" stroke="#303030" stroke-width="2.3"/>
<use href="#sLw" transform="translate(0,1135.2) scale(1,0.97)" stroke="#484848" stroke-width="2.1"/>
<use href="#sLw" transform="translate(0,1137) scale(1,0.96)" stroke="#505050" stroke-width="4.4"/>
<use href="#sLw" transform="translate(0,1141) scale(1,0.95)" stroke="#606060" stroke-width="3.5"/>
<use href="#sLw" transform="translate(0,1144.2) scale(1,0.93)" stroke="#404040" stroke-width="3.7"/>
<use href="#sLw" transform="translate(0,1147.6) scale(1,0.92)" stroke="#1c1c1c" stroke-width="2.8"/>
<use href="#sLw" transform="translate(0,1150.1) scale(1,0.91)" stroke="#747474" stroke-width="4.4"/>
<use href="#sLw" transform="translate(0,1154.1) scale(1,0.89)" stroke="#1c1c1c" stroke-width="2.9"/>
<use href="#sLw" transform="translate(0,1156.7) scale(1,0.88)" stroke="#a0a0a0" stroke-width="4.2"/>
<use href="#sLw" transform="translate(0,1160.5) scale(1,0.86)" stroke="#888888" stroke-width="3.6"/>
<use href="#sLw" transform="translate(0,1163.7) scale(1,0.85)" stroke="#383838" stroke-width="3.7"/>
<use href="#sLw" transform="translate(0,1167.1) scale(1,0.83)" stroke="#303030" stroke-width="3.6"/>
<use href="#sLw" transform="translate(0,1170.3) scale(1,0.82)" stroke="#282828" stroke-width="3.3"/>
<use href="#sLw" transform="translate(0,1173.2) scale(1,0.81)" stroke="#888888" stroke-width="3.6"/>
<use href="#sLw" transform="translate(0,1176.4) scale(1,0.79)" stroke="#b8b8b8" stroke-width="2.6"/>
<use href="#sLw" transform="translate(0,1178.8) scale(1,0.78)" stroke="#606060" stroke-width="3.1"/>
<use href="#sLw" transform="translate(0,1181.5) scale(1,0.77)" stroke="#606060" stroke-width="3.3"/>
<use href="#sLw" transform="translate(0,1184.5) scale(1,0.76)" stroke="#484848" stroke-width="2.8"/>
<use href="#sLw" transform="translate(0,1187.1) scale(1,0.75)" stroke="#282828" stroke-width="3"/>
<use href="#sLw" transform="translate(0,1189.8) scale(1,0.73)" stroke="#383838" stroke-width="2.8"/>
<use href="#sLw" transform="translate(0,1192.3) scale(1,0.72)" stroke="#888888" stroke-width="3.5"/>
<use href="#sLw" transform="translate(0,1195.5) scale(1,0.71)" stroke="#585858" stroke-width="2.3"/>
<use href="#sLw" transform="translate(0,1197.6) scale(1,0.70)" stroke="#585858" stroke-width="3.6"/>
<use href="#sLw" transform="translate(0,1200.8) scale(1,0.69)" stroke="#a0a0a0" stroke-width="2.9"/>
<use href="#sLw" transform="translate(0,1203.4) scale(1,0.68)" stroke="#747474" stroke-width="3.5"/>
<use href="#sLw" transform="translate(0,1206.6) scale(1,0.66)" stroke="#606060" stroke-width="3.8"/>
<use href="#sLw" transform="translate(0,1210) scale(1,0.65)" stroke="#202020" stroke-width="3.5"/>
<use href="#sLw" transform="translate(0,1213.2) scale(1,0.63)" stroke="#585858" stroke-width="2.1"/>
<use href="#sLw" transform="translate(0,1215) scale(1,0.63)" stroke="#747474" stroke-width="2.6"/>
<use href="#sLw" transform="translate(0,1217.4) scale(1,0.62)" stroke="#a0a0a0" stroke-width="2.7"/>
<use href="#sLw" transform="translate(0,1219.9) scale(1,0.61)" stroke="#383838" stroke-width="2.8"/>
<use href="#sLw" transform="translate(0,1222.4) scale(1,0.59)" stroke="#747474" stroke-width="2.5"/>
<use href="#sLw" transform="translate(0,1224.6) scale(1,0.58)" stroke="#282828" stroke-width="2.9"/>
<use href="#sLw" transform="translate(0,1227.2) scale(1,0.57)" stroke="#383838" stroke-width="2.7"/>
<use href="#sLw" transform="translate(0,1229.6) scale(1,0.56)" stroke="#282828" stroke-width="2.9"/>
<use href="#sLw" transform="translate(0,1232.3) scale(1,0.55)" stroke="#282828" stroke-width="4"/>
<use href="#sLw" transform="translate(0,1235.9) scale(1,0.54)" stroke="#383838" stroke-width="3.7"/>
<use href="#sLw" transform="translate(0,1239.2) scale(1,0.52)" stroke="#404040" stroke-width="2.8"/>
<use href="#sLw" transform="translate(0,1241.7) scale(1,0.51)" stroke="#505050" stroke-width="3.6"/>
<use href="#sLw" transform="translate(0,1245) scale(1,0.50)" stroke="#606060" stroke-width="2.6"/>
<use href="#sLw" transform="translate(0,1247.3) scale(1,0.49)" stroke="#404040" stroke-width="3.7"/>
<use href="#sLw" transform="translate(0,1250.7) scale(1,0.47)" stroke="#585858" stroke-width="3.7"/>
<use href="#sLw" transform="translate(0,1254) scale(1,0.46)" stroke="#303030" stroke-width="3.5"/>
<use href="#sLw" transform="translate(0,1257.2) scale(1,0.45)" stroke="#747474" stroke-width="3.7"/>
<use href="#sLw" transform="translate(0,1260.5) scale(1,0.45)" stroke="#505050" stroke-width="3.1"/>
<use href="#sLw" transform="translate(0,1263.3) scale(1,0.45)" stroke="#1c1c1c" stroke-width="4.4"/>
<use href="#sLw" transform="translate(0,1267.3) scale(1,0.45)" stroke="#303030" stroke-width="2.8"/>
<use href="#sLw" transform="translate(0,1269.8) scale(1,0.45)" stroke="#585858" stroke-width="2.5"/>
<use href="#sLw" transform="translate(0,1272.1) scale(1,0.45)" stroke="#383838" stroke-width="3.1"/>
<use href="#sLw" transform="translate(0,1274.9) scale(1,0.45)" stroke="#505050" stroke-width="4"/>
<use href="#sLw" transform="translate(0,1278.5) scale(1,0.45)" stroke="#202020" stroke-width="3.3"/>
<use href="#sLw" transform="translate(0,1281.5) scale(1,0.45)" stroke="#505050" stroke-width="2.8"/>
<use href="#sLw" transform="translate(0,1284) scale(1,0.45)" stroke="#1c1c1c" stroke-width="4.1"/>
<use href="#sLw" transform="translate(0,1287.7) scale(1,0.45)" stroke="#404040" stroke-width="4.2"/>
<use href="#sLw" transform="translate(0,1291.4) scale(1,0.45)" stroke="#747474" stroke-width="4"/>
<use href="#sLw" transform="translate(0,1295) scale(1,0.45)" stroke="#585858" stroke-width="2.2"/>
<use href="#sLw" transform="translate(0,1297) scale(1,0.45)" stroke="#383838" stroke-width="2.9"/>
<use href="#sLw" transform="translate(0,1299.6) scale(1,0.45)" stroke="#404040" stroke-width="3.1"/>
<use href="#sLw" transform="translate(0,1302.4) scale(1,0.45)" stroke="#484848" stroke-width="4"/>
<use href="#sLw" transform="translate(0,1305.9) scale(1,0.45)" stroke="#606060" stroke-width="3.2"/>
<use href="#sLw" transform="translate(0,1308.8) scale(1,0.45)" stroke="#585858" stroke-width="3"/>
<use href="#sLw" transform="translate(0,1311.5) scale(1,0.45)" stroke="#888888" stroke-width="3.4"/>
<use href="#sLw" transform="translate(0,1314.6) scale(1,0.45)" stroke="#202020" stroke-width="4.3"/>
<use href="#sLw" transform="translate(0,1318.5) scale(1,0.45)" stroke="#404040" stroke-width="2.5"/>
<use href="#sLw" transform="translate(0,1320.7) scale(1,0.45)" stroke="#a0a0a0" stroke-width="4.4"/>
<use href="#sLw" transform="translate(0,1324.6) scale(1,0.45)" stroke="#383838" stroke-width="4.5"/>
<use href="#sLw" transform="translate(0,1328.7) scale(1,0.45)" stroke="#888888" stroke-width="3.4"/>
<use href="#sLw" transform="translate(0,1331.7) scale(1,0.45)" stroke="#b8b8b8" stroke-width="2.6"/>
<use href="#sLw" transform="translate(0,1334) scale(1,0.45)" stroke="#b8b8b8" stroke-width="3.1"/>
<use href="#sLw" transform="translate(0,1336.8) scale(1,0.45)" stroke="#282828" stroke-width="3.7"/>
<use href="#sLw" transform="translate(0,1340.1) scale(1,0.45)" stroke="#484848" stroke-width="4.4"/>
<use href="#sLw" transform="translate(0,1344.1) scale(1,0.45)" stroke="#484848" stroke-width="2.9"/>
<use href="#sLw" transform="translate(0,1346.7) scale(1,0.45)" stroke="#505050" stroke-width="4.2"/>
<path d="M499.5 1234 L513.5 1234 L527.5 1234 L541.5 1234 L555.5 1234 L569.5 1234 L583.5 1234.7 L597.5 1236.7 L611.5 1239.6 L625.5 1243.2 L639.5 1247.1 L653.5 1251 L667.5 1254.6 L681.5 1257.4 L695.5 1259.4 L709.5 1259.4 L723.5 1257.3 L737.5 1254.2 L751.5 1250.3 L765.5 1246.1 L779.5 1241.9 L793.5 1238.3 L807.5 1235.6 L821.5 1234 L835.5 1235.4 L849.5 1237.9 L863.5 1241.3 L877.5 1245.2 L891.5 1249.4 L905.5 1253.2 L919.5 1256.5 L933.5 1258.9 L947.5 1259.8 L961.5 1258.3 L975.5 1255.8 L989.5 1252.5 L1003.5 1248.8 L1017.5 1244.9 L1031.5 1241.2 L1045.5 1238 L1059.5 1235.6 L1073.5 1234.1 L1087.5 1235.6 L1101.5 1238.8 L1115.5 1243 L1129.5 1247.9 L1143.5 1252.6 L1157.5 1256.5 L1171.5 1259.2 L1185.5 1259.5 L1199.5 1257.7 L1213.5 1255 L1227.5 1251.6 L1241.5 1247.8 L1255.5 1244 L1269.5 1240.4 L1283.5 1237.4 L1297.5 1235.2 L1311.5 1234.1 L1325.5 1235.7 L1339.5 1238.2 L1353.5 1241.6 L1367.5 1245.5 L1381.5 1249.6 L1395.5 1253.4 L1409.5 1256.6 L1423.5 1258.9 L1437.5 1259.8 L1451.5 1258.2 L1465.5 1255.7 L1479.5 1252.4 L1493.5 1248.6 L1507.5 1244.6 L1521.5 1240.9 L1535.5 1237.7 L1549.5 1235.3 L1563.5 1234.1 L1577.5 1235.8 L1591.5 1238.9 L1605.5 1242.9 L1619.5 1247.5 L1633.5 1252 L1647.5 1255.9 L1661.5 1258.7 L1675.5 1259.8 L1689.5 1258.3 L1703.5 1255.9 L1717.5 1252.7 L1731.5 1249.1 L1745.5 1245.2 L1759.5 1241.5 L1773.5 1238.3 L1787.5 1235.8 L1801.5 1234.3 L1815.5 1235.2 L1829.5 1238.1 L1843.5 1242.1 L1857.5 1246.8 L1871.5 1251.5 L1885.5 1255.6 L1899.5 1258.6 L1913.5 1259.8 L1927.5 1258.2 L1941.5 1255.7 L1955.5 1252.4 L1969.5 1248.6 L1983.5 1244.6 L1997.5 1240.9 L2011.5 1237.7 L2025.5 1235.3 L2039.5 1234 L2053.5 1235.6 L2067.5 1238.3 L2081.5 1241.9 L2095.5 1246.1 L2109.5 1250.3 L2123.5 1254.2 L2137.5 1257.3 L2151.5 1259.4 L2165.5 1259.3 L2179.5 1256.9 L2193.5 1253.5 L2207.5 1249.2 L2221.5 1244.8 L2235.5 1240.5 L2249.5 1237.1 L2263.5 1234.7 L2271.3 1234 L2271.3 1323.6 L569.5 1323.6Z" fill="#ececec"/>
<use href="#sLw" transform="translate(0,1252.5) scale(1,0.48)" stroke="#ffffff" stroke-width="8"/>
<use href="#sLw" transform="translate(0,1259.5) scale(1,0.46)" stroke="#d0d0d0" stroke-width="2.5"/>
<use href="#sLw" transform="translate(0,1266.5) scale(1,0.45)" stroke="#ffffff" stroke-width="7"/>
<use href="#sLw" transform="translate(0,1280.5) scale(1,0.42)" stroke="#c0c0c0" stroke-width="2"/>
<use href="#sLw" transform="translate(0,1286.5) scale(1,0.41)" stroke="#f6f6f6" stroke-width="8"/>
<use href="#sLw" transform="translate(0,1296.5) scale(1,0.39)" stroke="#b4b4b4" stroke-width="2"/>
<use href="#sLw" transform="translate(0,1302.5) scale(1,0.38)" stroke="#ffffff" stroke-width="9"/>
<use href="#sLw" transform="translate(0,1313.5) scale(1,0.36)" stroke="#c8c8c8" stroke-width="2.5"/>
<use href="#sLw" transform="translate(0,1320.5) scale(1,0.34)" stroke="#fafafa" stroke-width="8"/>
<use href="#sLw" transform="translate(0,1330.5) scale(1,0.32)" stroke="#bcbcbc" stroke-width="2"/>
<use href="#sLw" transform="translate(0,1336.5) scale(1,0.31)" stroke="#eeeeee" stroke-width="7"/>
<use href="#sLw" transform="translate(0,1344.5) scale(1,0.30)" stroke="#a8a8a8" stroke-width="2"/>
<use href="#sLw" transform="translate(0,1240.5) scale(1,0.51)" stroke="#b0b0b0" stroke-width="7"/>
<rect x="569.5" y="859.8" width="1701.8" height="458.8" fill="#000" filter="url(#fStreak)" opacity="0.38"/>
<rect x="569.5" y="859.8" width="1701.8" height="458.8" fill="#fff" filter="url(#fStreakW)" opacity="0.2"/>
<path d="M499.5 1028 L513.5 1028 L527.5 1028 L541.5 1028 L555.5 1028 L569.5 1027.4 L583.5 1019.3 L597.5 1012.2 L611.5 1009.4 L625.5 1000.9 L639.5 991.6 L653.5 987 L667.5 987.4 L681.5 988.7 L695.5 990.9 L709.5 993.8 L723.5 997 L737.5 1000.4 L751.5 1003.6 L765.5 1006.4 L779.5 1008.5 L793.5 1009.7 L807.5 1009.7 L821.5 1003.9 L835.5 997 L849.5 995.7 L863.5 993.7 L877.5 990.6 L891.5 988 L905.5 987 L919.5 987.6 L933.5 989.1 L947.5 991.6 L961.5 994.8 L975.5 998.4 L989.5 1002.3 L1003.5 1006.2 L1017.5 1009.7 L1031.5 1012.6 L1045.5 1014.7 L1059.5 1015.8 L1073.5 1016 L1087.5 1015.9 L1101.5 1015.6 L1115.5 1015.2 L1129.5 1014.8 L1143.5 1014.5 L1157.5 1014.2 L1171.5 1014 L1185.5 1014.1 L1199.5 1014.6 L1213.5 1015.7 L1227.5 1017.2 L1241.5 1018.8 L1255.5 1020.3 L1269.5 1021.4 L1283.5 1021.9 L1297.5 1019.3 L1311.5 1006.5 L1325.5 994.1 L1339.5 991.9 L1353.5 991.1 L1367.5 989.9 L1381.5 988.7 L1395.5 988 L1409.5 988.3 L1423.5 989.5 L1437.5 991.6 L1451.5 994.3 L1465.5 997.5 L1479.5 1000.8 L1493.5 1003.9 L1507.5 1006.6 L1521.5 1008.6 L1535.5 1009.8 L1549.5 1009.2 L1563.5 999.3 L1577.5 992 L1591.5 991.3 L1605.5 989.5 L1619.5 987.7 L1633.5 987 L1647.5 987.6 L1661.5 989.2 L1675.5 991.6 L1689.5 994.8 L1703.5 998.3 L1717.5 1002 L1731.5 1005.4 L1745.5 1008.3 L1759.5 1010.5 L1773.5 1011.8 L1787.5 1012 L1801.5 1012 L1815.5 1012 L1829.5 1012 L1843.5 1012 L1857.5 1012 L1871.5 1012 L1885.5 1012 L1899.5 1012 L1913.5 1012.1 L1927.5 1012.6 L1941.5 1013.2 L1955.5 1014.1 L1969.5 1015 L1983.5 1015.9 L1997.5 1016.8 L2011.5 1017.4 L2025.5 1017.9 L2039.5 1018 L2053.5 1003 L2067.5 994 L2081.5 993.3 L2095.5 992 L2109.5 990.7 L2123.5 990 L2137.5 990.3 L2151.5 991.7 L2165.5 994.1 L2179.5 997.3 L2193.5 1000.9 L2207.5 1004.8 L2221.5 1008.5 L2235.5 1011.7 L2249.5 1014.1 L2263.5 1015.6 L2271.3 1016 L2271.3 1102 L2263.5 1103.5 L2249.5 1108.2 L2235.5 1115.3 L2221.5 1123.9 L2207.5 1133.1 L2193.5 1141.7 L2179.5 1148.8 L2165.5 1153.5 L2151.5 1153.9 L2137.5 1149.6 L2123.5 1143.2 L2109.5 1135.3 L2095.5 1126.6 L2081.5 1118.2 L2067.5 1110.8 L2053.5 1105.3 L2039.5 1102.1 L2025.5 1104.7 L2011.5 1109.5 L1997.5 1116 L1983.5 1123.6 L1969.5 1131.7 L1955.5 1139.5 L1941.5 1146.3 L1927.5 1151.4 L1913.5 1154.7 L1899.5 1152.2 L1885.5 1146.1 L1871.5 1137.8 L1857.5 1128.2 L1843.5 1118.6 L1829.5 1110.4 L1815.5 1104.5 L1801.5 1102.5 L1787.5 1105.7 L1773.5 1110.8 L1759.5 1117.3 L1745.5 1124.9 L1731.5 1132.7 L1717.5 1140.2 L1703.5 1146.6 L1689.5 1151.6 L1675.5 1154.7 L1661.5 1152.3 L1647.5 1146.6 L1633.5 1138.7 L1619.5 1129.5 L1605.5 1120.2 L1591.5 1111.9 L1577.5 1105.7 L1563.5 1102.1 L1549.5 1104.7 L1535.5 1109.5 L1521.5 1116 L1507.5 1123.6 L1493.5 1131.7 L1479.5 1139.5 L1465.5 1146.3 L1451.5 1151.4 L1437.5 1154.7 L1423.5 1152.8 L1409.5 1148.1 L1395.5 1141.6 L1381.5 1133.8 L1367.5 1125.5 L1353.5 1117.6 L1339.5 1110.6 L1325.5 1105.4 L1311.5 1102.2 L1297.5 1104.3 L1283.5 1108.8 L1269.5 1115 L1255.5 1122.3 L1241.5 1130.2 L1227.5 1137.9 L1213.5 1144.8 L1199.5 1150.3 L1185.5 1154 L1171.5 1153.4 L1157.5 1147.9 L1143.5 1139.9 L1129.5 1130.3 L1115.5 1120.4 L1101.5 1111.7 L1087.5 1105.2 L1073.5 1102.2 L1059.5 1105.2 L1045.5 1110.1 L1031.5 1116.7 L1017.5 1124.2 L1003.5 1132.2 L989.5 1139.8 L975.5 1146.5 L961.5 1151.5 L947.5 1154.7 L933.5 1152.7 L919.5 1147.9 L905.5 1141.2 L891.5 1133.3 L877.5 1124.9 L863.5 1116.8 L849.5 1109.9 L835.5 1104.8 L821.5 1102.1 L807.5 1105.3 L793.5 1110.8 L779.5 1118.2 L765.5 1126.6 L751.5 1135.3 L737.5 1143.2 L723.5 1149.6 L709.5 1153.9 L695.5 1153.8 L681.5 1149.8 L667.5 1144 L653.5 1136.8 L639.5 1128.8 L625.5 1120.8 L611.5 1113.5 L597.5 1107.6 L583.5 1103.5 L569.5 1102 L555.5 1102 L541.5 1102 L527.5 1102 L513.5 1102 L499.5 1102Z" fill="#1d1d1d"/>
<clipPath id="cpSc"><path d="M499.5 1028 L513.5 1028 L527.5 1028 L541.5 1028 L555.5 1028 L569.5 1027.4 L583.5 1019.3 L597.5 1012.2 L611.5 1009.4 L625.5 1000.9 L639.5 991.6 L653.5 987 L667.5 987.4 L681.5 988.7 L695.5 990.9 L709.5 993.8 L723.5 997 L737.5 1000.4 L751.5 1003.6 L765.5 1006.4 L779.5 1008.5 L793.5 1009.7 L807.5 1009.7 L821.5 1003.9 L835.5 997 L849.5 995.7 L863.5 993.7 L877.5 990.6 L891.5 988 L905.5 987 L919.5 987.6 L933.5 989.1 L947.5 991.6 L961.5 994.8 L975.5 998.4 L989.5 1002.3 L1003.5 1006.2 L1017.5 1009.7 L1031.5 1012.6 L1045.5 1014.7 L1059.5 1015.8 L1073.5 1016 L1087.5 1015.9 L1101.5 1015.6 L1115.5 1015.2 L1129.5 1014.8 L1143.5 1014.5 L1157.5 1014.2 L1171.5 1014 L1185.5 1014.1 L1199.5 1014.6 L1213.5 1015.7 L1227.5 1017.2 L1241.5 1018.8 L1255.5 1020.3 L1269.5 1021.4 L1283.5 1021.9 L1297.5 1019.3 L1311.5 1006.5 L1325.5 994.1 L1339.5 991.9 L1353.5 991.1 L1367.5 989.9 L1381.5 988.7 L1395.5 988 L1409.5 988.3 L1423.5 989.5 L1437.5 991.6 L1451.5 994.3 L1465.5 997.5 L1479.5 1000.8 L1493.5 1003.9 L1507.5 1006.6 L1521.5 1008.6 L1535.5 1009.8 L1549.5 1009.2 L1563.5 999.3 L1577.5 992 L1591.5 991.3 L1605.5 989.5 L1619.5 987.7 L1633.5 987 L1647.5 987.6 L1661.5 989.2 L1675.5 991.6 L1689.5 994.8 L1703.5 998.3 L1717.5 1002 L1731.5 1005.4 L1745.5 1008.3 L1759.5 1010.5 L1773.5 1011.8 L1787.5 1012 L1801.5 1012 L1815.5 1012 L1829.5 1012 L1843.5 1012 L1857.5 1012 L1871.5 1012 L1885.5 1012 L1899.5 1012 L1913.5 1012.1 L1927.5 1012.6 L1941.5 1013.2 L1955.5 1014.1 L1969.5 1015 L1983.5 1015.9 L1997.5 1016.8 L2011.5 1017.4 L2025.5 1017.9 L2039.5 1018 L2053.5 1003 L2067.5 994 L2081.5 993.3 L2095.5 992 L2109.5 990.7 L2123.5 990 L2137.5 990.3 L2151.5 991.7 L2165.5 994.1 L2179.5 997.3 L2193.5 1000.9 L2207.5 1004.8 L2221.5 1008.5 L2235.5 1011.7 L2249.5 1014.1 L2263.5 1015.6 L2271.3 1016 L2271.3 1102 L2263.5 1103.5 L2249.5 1108.2 L2235.5 1115.3 L2221.5 1123.9 L2207.5 1133.1 L2193.5 1141.7 L2179.5 1148.8 L2165.5 1153.5 L2151.5 1153.9 L2137.5 1149.6 L2123.5 1143.2 L2109.5 1135.3 L2095.5 1126.6 L2081.5 1118.2 L2067.5 1110.8 L2053.5 1105.3 L2039.5 1102.1 L2025.5 1104.7 L2011.5 1109.5 L1997.5 1116 L1983.5 1123.6 L1969.5 1131.7 L1955.5 1139.5 L1941.5 1146.3 L1927.5 1151.4 L1913.5 1154.7 L1899.5 1152.2 L1885.5 1146.1 L1871.5 1137.8 L1857.5 1128.2 L1843.5 1118.6 L1829.5 1110.4 L1815.5 1104.5 L1801.5 1102.5 L1787.5 1105.7 L1773.5 1110.8 L1759.5 1117.3 L1745.5 1124.9 L1731.5 1132.7 L1717.5 1140.2 L1703.5 1146.6 L1689.5 1151.6 L1675.5 1154.7 L1661.5 1152.3 L1647.5 1146.6 L1633.5 1138.7 L1619.5 1129.5 L1605.5 1120.2 L1591.5 1111.9 L1577.5 1105.7 L1563.5 1102.1 L1549.5 1104.7 L1535.5 1109.5 L1521.5 1116 L1507.5 1123.6 L1493.5 1131.7 L1479.5 1139.5 L1465.5 1146.3 L1451.5 1151.4 L1437.5 1154.7 L1423.5 1152.8 L1409.5 1148.1 L1395.5 1141.6 L1381.5 1133.8 L1367.5 1125.5 L1353.5 1117.6 L1339.5 1110.6 L1325.5 1105.4 L1311.5 1102.2 L1297.5 1104.3 L1283.5 1108.8 L1269.5 1115 L1255.5 1122.3 L1241.5 1130.2 L1227.5 1137.9 L1213.5 1144.8 L1199.5 1150.3 L1185.5 1154 L1171.5 1153.4 L1157.5 1147.9 L1143.5 1139.9 L1129.5 1130.3 L1115.5 1120.4 L1101.5 1111.7 L1087.5 1105.2 L1073.5 1102.2 L1059.5 1105.2 L1045.5 1110.1 L1031.5 1116.7 L1017.5 1124.2 L1003.5 1132.2 L989.5 1139.8 L975.5 1146.5 L961.5 1151.5 L947.5 1154.7 L933.5 1152.7 L919.5 1147.9 L905.5 1141.2 L891.5 1133.3 L877.5 1124.9 L863.5 1116.8 L849.5 1109.9 L835.5 1104.8 L821.5 1102.1 L807.5 1105.3 L793.5 1110.8 L779.5 1118.2 L765.5 1126.6 L751.5 1135.3 L737.5 1143.2 L723.5 1149.6 L709.5 1153.9 L695.5 1153.8 L681.5 1149.8 L667.5 1144 L653.5 1136.8 L639.5 1128.8 L625.5 1120.8 L611.5 1113.5 L597.5 1107.6 L583.5 1103.5 L569.5 1102 L555.5 1102 L541.5 1102 L527.5 1102 L513.5 1102 L499.5 1102Z"/></clipPath>
<g clip-path="url(#cpSc)"><rect x="569.5" y="975" width="1701.8" height="195" fill="#fff" filter="url(#fSpeck)" opacity="0.22"/></g>
<use href="#sUw" transform="translate(0,996)" stroke="#c4c4c4" stroke-width="3.5"/>
<use href="#sUw" transform="translate(0,1001.5)" stroke="#5a5a5a" stroke-width="3"/>
<use href="#sUw" transform="translate(0,990)" stroke="#757575" stroke-width="4"/>
<use href="#sLw" transform="translate(0,1131.5)" stroke="#dcdcdc" stroke-width="4"/>
<use href="#sLw" transform="translate(0,1126.5)" stroke="#5c5c5c" stroke-width="3"/>
<rect x="699" y="859.8" width="7" height="458.8" fill="#000" opacity="0.12"/>
<rect x="941" y="859.8" width="7" height="458.8" fill="#000" opacity="0.12"/>
<rect x="1175" y="859.8" width="7" height="458.8" fill="#000" opacity="0.12"/>
<rect x="1431" y="859.8" width="7" height="458.8" fill="#000" opacity="0.12"/>
<rect x="1669" y="859.8" width="7" height="458.8" fill="#000" opacity="0.12"/>
<rect x="1907" y="859.8" width="7" height="458.8" fill="#000" opacity="0.12"/>
<rect x="2154" y="859.8" width="7" height="458.8" fill="#000" opacity="0.12"/>
</g>
<defs>
<clipPath id="cpM"><rect x="569.5" y="1360.3" width="1701.8" height="458.7"/></clipPath>
<path id="mLw" d="M499.5 20 L513.5 20 L527.5 20 L541.5 18.9 L555.5 1.8 L569.5 -21.3 L583.5 -37.7 L597.5 -32.2 L611.5 -23.3 L625.5 -12.5 L639.5 -0.8 L653.5 10.4 L667.5 19.9 L681.5 26.8 L695.5 24.9 L709.5 19.1 L723.5 11.9 L737.5 3.6 L751.5 -5.3 L765.5 -14.2 L779.5 -22.5 L793.5 -29.6 L807.5 -35.2 L821.5 -36.8 L835.5 -31.9 L849.5 -25.3 L863.5 -17.5 L877.5 -8.8 L891.5 0.1 L905.5 8.7 L919.5 16.3 L933.5 22.7 L947.5 27.4 L961.5 24.2 L975.5 17.8 L989.5 9.7 L1003.5 0.5 L1017.5 -9.1 L1031.5 -18.4 L1045.5 -26.7 L1059.5 -33.4 L1073.5 -37.9 L1087.5 -33.2 L1101.5 -26.8 L1115.5 -18.9 L1129.5 -10 L1143.5 -0.7 L1157.5 8.2 L1171.5 16.3 L1185.5 22.8 L1199.5 27.6 L1213.5 24.4 L1227.5 19 L1241.5 12.2 L1255.5 4.5 L1269.5 -3.8 L1283.5 -12.2 L1297.5 -20.1 L1311.5 -27.2 L1325.5 -33 L1339.5 -37.4 L1353.5 -33.3 L1367.5 -24.9 L1381.5 -14.4 L1395.5 -2.9 L1409.5 8.4 L1423.5 18.2 L1437.5 25.6 L1451.5 25.8 L1465.5 20.2 L1479.5 13 L1493.5 4.5 L1507.5 -4.7 L1521.5 -13.8 L1535.5 -22.4 L1549.5 -29.7 L1563.5 -35.5 L1577.5 -36.5 L1591.5 -31.6 L1605.5 -25.2 L1619.5 -17.5 L1633.5 -9 L1647.5 -0.3 L1661.5 8.1 L1675.5 15.7 L1689.5 22 L1703.5 26.8 L1717.5 24.7 L1731.5 18 L1745.5 9.3 L1759.5 -0.6 L1773.5 -10.9 L1787.5 -20.6 L1801.5 -29.1 L1815.5 -35.5 L1829.5 -36.3 L1843.5 -31.5 L1857.5 -25.3 L1871.5 -17.9 L1885.5 -9.8 L1899.5 -1.4 L1913.5 6.8 L1927.5 14.3 L1941.5 20.7 L1955.5 25.7 L1969.5 26.4 L1983.5 20.8 L1997.5 13.3 L2011.5 4.5 L2025.5 -5 L2039.5 -14.5 L2053.5 -23.3 L2067.5 -30.8 L2081.5 -36.4 L2095.5 -35.5 L2109.5 -29.7 L2123.5 -22.4 L2137.5 -13.8 L2151.5 -4.7 L2165.5 4.5 L2179.5 13 L2193.5 20.2 L2207.5 25.8 L2221.5 25.9 L2235.5 19.6 L2249.5 11.3 L2263.5 1.6 L2271.3 -4.1" fill="none" vector-effect="non-scaling-stroke"/>
<path id="mUw" d="M499.5 17 L513.5 17 L527.5 17 L541.5 17 L555.5 17 L569.5 17 L583.5 16.2 L597.5 14.6 L611.5 12.2 L625.5 9.2 L639.5 5.9 L653.5 2.4 L667.5 -1 L681.5 -4 L695.5 -6.4 L709.5 -8.1 L723.5 -8.9 L737.5 -8.3 L751.5 -4.7 L765.5 1.3 L779.5 8.1 L793.5 13.7 L807.5 16.7 L821.5 16.5 L835.5 13.3 L849.5 7.7 L863.5 0.4 L877.5 -7.8 L891.5 -15.7 L905.5 -22.4 L919.5 -27 L933.5 -29 L947.5 -28.3 L961.5 -25.5 L975.5 -21 L989.5 -15.1 L1003.5 -8.5 L1017.5 -1.8 L1031.5 4.2 L1045.5 9 L1059.5 12 L1073.5 13 L1087.5 11.7 L1101.5 8.1 L1115.5 2.9 L1129.5 -3 L1143.5 -8.7 L1157.5 -13.2 L1171.5 -15.6 L1185.5 -15.8 L1199.5 -14.5 L1213.5 -11.8 L1227.5 -8.1 L1241.5 -3.6 L1255.5 1.3 L1269.5 6.3 L1283.5 10.8 L1297.5 14.6 L1311.5 17.3 L1325.5 18.8 L1339.5 18.7 L1353.5 15.8 L1367.5 11.1 L1381.5 6.6 L1395.5 4.2 L1409.5 3.7 L1423.5 2.2 L1437.5 -0.2 L1451.5 -3 L1465.5 -5.3 L1479.5 -6.7 L1493.5 -6.8 L1507.5 -4 L1521.5 1.2 L1535.5 7.6 L1549.5 13.6 L1563.5 17.7 L1577.5 19 L1591.5 16.6 L1605.5 10.8 L1619.5 2.6 L1633.5 -6.1 L1647.5 -13.7 L1661.5 -18.7 L1675.5 -20 L1689.5 -19 L1703.5 -16.7 L1717.5 -13.3 L1731.5 -9.1 L1745.5 -4.4 L1759.5 0.4 L1773.5 4.9 L1787.5 8.6 L1801.5 11.4 L1815.5 12.8 L1829.5 12.8 L1843.5 10.8 L1857.5 7 L1871.5 2.2 L1885.5 -3 L1899.5 -7.5 L1913.5 -10.7 L1927.5 -12 L1941.5 -11.4 L1955.5 -9.4 L1969.5 -6.1 L1983.5 -1.9 L1997.5 2.8 L2011.5 7.6 L2025.5 12 L2039.5 15.6 L2053.5 18 L2067.5 19 L2081.5 18.4 L2095.5 16.3 L2109.5 12.9 L2123.5 8.6 L2137.5 4 L2151.5 -0.4 L2165.5 -3.9 L2179.5 -6.2 L2193.5 -7 L2207.5 -6.2 L2221.5 -4 L2235.5 -1.2 L2249.5 1.6 L2263.5 3.5 L2271.3 3.9" fill="none" vector-effect="non-scaling-stroke"/>
</defs>
<g clip-path="url(#cpM)">
<rect x="569.5" y="1360.3" width="1701.8" height="458.7" fill="#2a2a2a"/>
<use href="#mUw" transform="translate(0,1362.3) scale(1,0.02)" stroke="#787878" stroke-width="4"/>
<use href="#mUw" transform="translate(0,1365.9) scale(1,0.02)" stroke="#606060" stroke-width="2.8"/>
<use href="#mUw" transform="translate(0,1368.5) scale(1,0.02)" stroke="#505050" stroke-width="3.3"/>
<use href="#mUw" transform="translate(0,1371.5) scale(1,0.03)" stroke="#787878" stroke-width="4.7"/>
<use href="#mUw" transform="translate(0,1375.8) scale(1,0.03)" stroke="#6c6c6c" stroke-width="3.3"/>
<use href="#mUw" transform="translate(0,1378.8) scale(1,0.04)" stroke="#505050" stroke-width="4.3"/>
<use href="#mUw" transform="translate(0,1382.7) scale(1,0.05)" stroke="#808080" stroke-width="4.3"/>
<use href="#mUw" transform="translate(0,1386.5) scale(1,0.06)" stroke="#787878" stroke-width="4.9"/>
<use href="#mUw" transform="translate(0,1390.9) scale(1,0.08)" stroke="#888888" stroke-width="2.9"/>
<use href="#mUw" transform="translate(0,1393.5) scale(1,0.09)" stroke="#949494" stroke-width="2.6"/>
<use href="#mUw" transform="translate(0,1395.9) scale(1,0.10)" stroke="#808080" stroke-width="3.8"/>
<use href="#mUw" transform="translate(0,1399.2) scale(1,0.11)" stroke="#585858" stroke-width="4.4"/>
<use href="#mUw" transform="translate(0,1403.2) scale(1,0.13)" stroke="#484848" stroke-width="4.5"/>
<use href="#mUw" transform="translate(0,1407.3) scale(1,0.16)" stroke="#585858" stroke-width="4.8"/>
<use href="#mUw" transform="translate(0,1411.6) scale(1,0.18)" stroke="#787878" stroke-width="4.2"/>
<use href="#mUw" transform="translate(0,1415.3) scale(1,0.21)" stroke="#3a3a3a" stroke-width="4.7"/>
<use href="#mUw" transform="translate(0,1419.6) scale(1,0.24)" stroke="#5c5c5c" stroke-width="4.8"/>
<use href="#mUw" transform="translate(0,1423.9) scale(1,0.27)" stroke="#3a3a3a" stroke-width="3.2"/>
<use href="#mUw" transform="translate(0,1426.8) scale(1,0.29)" stroke="#303030" stroke-width="3"/>
<use href="#mUw" transform="translate(0,1429.5) scale(1,0.31)" stroke="#303030" stroke-width="4.7"/>
<rect x="569.5" y="1360.3" width="1701.8" height="4" fill="#3a3a3a"/>
<rect x="569.5" y="1396" width="1701.8" height="8" fill="#cecece"/>
<rect x="569.5" y="1404" width="1701.8" height="4" fill="#9a9a9a"/>
<use href="#mUw" transform="translate(0,1424) scale(1,0.3)" stroke="#b0b0b0" stroke-width="4"/>
<use href="#mUw" transform="translate(0,1432.3) scale(1,0.30)" stroke="#181818" stroke-width="4.2"/>
<use href="#mUw" transform="translate(0,1436.1) scale(1,0.33)" stroke="#1e1e1e" stroke-width="2.3"/>
<use href="#mUw" transform="translate(0,1438.2) scale(1,0.35)" stroke="#363636" stroke-width="3.1"/>
<use href="#mUw" transform="translate(0,1441) scale(1,0.38)" stroke="#222222" stroke-width="4.4"/>
<use href="#mUw" transform="translate(0,1445) scale(1,0.41)" stroke="#181818" stroke-width="2.3"/>
<use href="#mUw" transform="translate(0,1447) scale(1,0.43)" stroke="#363636" stroke-width="4.2"/>
<use href="#mUw" transform="translate(0,1450.8) scale(1,0.46)" stroke="#363636" stroke-width="2.8"/>
<use href="#mUw" transform="translate(0,1453.4) scale(1,0.49)" stroke="#222222" stroke-width="2.3"/>
<use href="#mUw" transform="translate(0,1455.5) scale(1,0.50)" stroke="#181818" stroke-width="3.3"/>
<use href="#mUw" transform="translate(0,1458.4) scale(1,0.53)" stroke="#1e1e1e" stroke-width="3.3"/>
<use href="#mUw" transform="translate(0,1461.4) scale(1,0.56)" stroke="#363636" stroke-width="3.1"/>
<use href="#mUw" transform="translate(0,1464.2) scale(1,0.58)" stroke="#282828" stroke-width="2.5"/>
<use href="#mUw" transform="translate(0,1466.4) scale(1,0.60)" stroke="#222222" stroke-width="3.8"/>
<use href="#mUw" transform="translate(0,1469.8) scale(1,0.63)" stroke="#2c2c2c" stroke-width="2.4"/>
<use href="#mUw" transform="translate(0,1472) scale(1,0.65)" stroke="#181818" stroke-width="2.1"/>
<use href="#mUw" transform="translate(0,1473.9) scale(1,0.67)" stroke="#323232" stroke-width="3.7"/>
<use href="#mUw" transform="translate(0,1477.2) scale(1,0.69)" stroke="#2c2c2c" stroke-width="3.9"/>
<use href="#mUw" transform="translate(0,1480.7) scale(1,0.73)" stroke="#181818" stroke-width="2.3"/>
<use href="#mUw" transform="translate(0,1482.8) scale(1,0.74)" stroke="#282828" stroke-width="4.4"/>
<use href="#mUw" transform="translate(0,1486.7) scale(1,0.78)" stroke="#363636" stroke-width="2.4"/>
<use href="#mUw" transform="translate(0,1488.9) scale(1,0.80)" stroke="#323232" stroke-width="2.1"/>
<use href="#mUw" transform="translate(0,1490.8) scale(1,0.81)" stroke="#4a4a4a" stroke-width="4.1"/>
<use href="#mUw" transform="translate(0,1494.5) scale(1,0.85)" stroke="#323232" stroke-width="3.5"/>
<use href="#mUw" transform="translate(0,1497.6) scale(1,0.87)" stroke="#222222" stroke-width="4.2"/>
<use href="#mUw" transform="translate(0,1501.4) scale(1,0.91)" stroke="#222222" stroke-width="4.2"/>
<use href="#mUw" transform="translate(0,1505.1) scale(1,0.94)" stroke="#4a4a4a" stroke-width="3.1"/>
<use href="#mUw" transform="translate(0,1507.9) scale(1,0.96)" stroke="#282828" stroke-width="2.5"/>
<use href="#mLw" transform="translate(0,1665) scale(1,1.00)" stroke="#4c4c4c" stroke-width="3.9"/>
<use href="#mLw" transform="translate(0,1668.5) scale(1,1.00)" stroke="#707070" stroke-width="4"/>
<use href="#mLw" transform="translate(0,1672.1) scale(1,1.00)" stroke="#626262" stroke-width="2"/>
<use href="#mLw" transform="translate(0,1673.9) scale(1,0.99)" stroke="#2c2c2c" stroke-width="2.5"/>
<use href="#mLw" transform="translate(0,1676.2) scale(1,0.98)" stroke="#303030" stroke-width="2.7"/>
<use href="#mLw" transform="translate(0,1678.6) scale(1,0.97)" stroke="#2c2c2c" stroke-width="2.8"/>
<use href="#mLw" transform="translate(0,1681.1) scale(1,0.95)" stroke="#545454" stroke-width="2.3"/>
<use href="#mLw" transform="translate(0,1683.1) scale(1,0.94)" stroke="#202020" stroke-width="2.1"/>
<use href="#mLw" transform="translate(0,1684.9) scale(1,0.93)" stroke="#3e3e3e" stroke-width="4"/>
<use href="#mLw" transform="translate(0,1688.6) scale(1,0.90)" stroke="#303030" stroke-width="2.9"/>
<use href="#mLw" transform="translate(0,1691.1) scale(1,0.89)" stroke="#464646" stroke-width="3.4"/>
<use href="#mLw" transform="translate(0,1694.2) scale(1,0.87)" stroke="#2c2c2c" stroke-width="3.1"/>
<use href="#mLw" transform="translate(0,1697) scale(1,0.85)" stroke="#464646" stroke-width="2.2"/>
<use href="#mLw" transform="translate(0,1699) scale(1,0.84)" stroke="#707070" stroke-width="3.3"/>
<use href="#mLw" transform="translate(0,1701.9) scale(1,0.82)" stroke="#3e3e3e" stroke-width="2.9"/>
<use href="#mLw" transform="translate(0,1704.6) scale(1,0.81)" stroke="#545454" stroke-width="2.4"/>
<use href="#mLw" transform="translate(0,1706.7) scale(1,0.79)" stroke="#545454" stroke-width="2.1"/>
<use href="#mLw" transform="translate(0,1708.6) scale(1,0.78)" stroke="#383838" stroke-width="2.7"/>
<use href="#mLw" transform="translate(0,1711) scale(1,0.77)" stroke="#383838" stroke-width="4.5"/>
<use href="#mLw" transform="translate(0,1715) scale(1,0.74)" stroke="#4c4c4c" stroke-width="2.4"/>
<use href="#mLw" transform="translate(0,1717.2) scale(1,0.73)" stroke="#202020" stroke-width="2.2"/>
<use href="#mLw" transform="translate(0,1719.1) scale(1,0.72)" stroke="#464646" stroke-width="4"/>
<use href="#mLw" transform="translate(0,1722.7) scale(1,0.70)" stroke="#545454" stroke-width="3.5"/>
<use href="#mLw" transform="translate(0,1725.8) scale(1,0.68)" stroke="#626262" stroke-width="2.7"/>
<use href="#mLw" transform="translate(0,1728.3) scale(1,0.66)" stroke="#303030" stroke-width="3.4"/>
<use href="#mLw" transform="translate(0,1731.3) scale(1,0.64)" stroke="#383838" stroke-width="4.4"/>
<use href="#mLw" transform="translate(0,1735.3) scale(1,0.62)" stroke="#3e3e3e" stroke-width="2.7"/>
<use href="#mLw" transform="translate(0,1737.8) scale(1,0.60)" stroke="#2c2c2c" stroke-width="2.2"/>
<use href="#mLw" transform="translate(0,1739.7) scale(1,0.59)" stroke="#303030" stroke-width="2.4"/>
<use href="#mLw" transform="translate(0,1741.8) scale(1,0.58)" stroke="#3e3e3e" stroke-width="3.9"/>
<use href="#mLw" transform="translate(0,1745.4) scale(1,0.56)" stroke="#707070" stroke-width="3.5"/>
<use href="#mLw" transform="translate(0,1748.5) scale(1,0.54)" stroke="#383838" stroke-width="3.7"/>
<use href="#mLw" transform="translate(0,1751.8) scale(1,0.52)" stroke="#545454" stroke-width="3.9"/>
<use href="#mLw" transform="translate(0,1755.3) scale(1,0.50)" stroke="#4c4c4c" stroke-width="3.2"/>
<use href="#mLw" transform="translate(0,1758.2) scale(1,0.48)" stroke="#2c2c2c" stroke-width="4.3"/>
<use href="#mLw" transform="translate(0,1762.1) scale(1,0.45)" stroke="#545454" stroke-width="3.3"/>
<use href="#mLw" transform="translate(0,1765.1) scale(1,0.45)" stroke="#383838" stroke-width="4"/>
<use href="#mLw" transform="translate(0,1768.7) scale(1,0.45)" stroke="#2c2c2c" stroke-width="2.4"/>
<use href="#mLw" transform="translate(0,1770.9) scale(1,0.45)" stroke="#464646" stroke-width="4.1"/>
<use href="#mLw" transform="translate(0,1774.6) scale(1,0.45)" stroke="#464646" stroke-width="2.4"/>
<use href="#mLw" transform="translate(0,1776.8) scale(1,0.45)" stroke="#303030" stroke-width="3.5"/>
<use href="#mLw" transform="translate(0,1779.9) scale(1,0.45)" stroke="#3e3e3e" stroke-width="3"/>
<use href="#mLw" transform="translate(0,1782.6) scale(1,0.45)" stroke="#383838" stroke-width="3.4"/>
<use href="#mLw" transform="translate(0,1785.6) scale(1,0.45)" stroke="#4c4c4c" stroke-width="4.4"/>
<use href="#mLw" transform="translate(0,1789.6) scale(1,0.45)" stroke="#3e3e3e" stroke-width="2.2"/>
<use href="#mLw" transform="translate(0,1791.5) scale(1,0.45)" stroke="#202020" stroke-width="3.5"/>
<use href="#mLw" transform="translate(0,1794.6) scale(1,0.45)" stroke="#4c4c4c" stroke-width="4.2"/>
<use href="#mLw" transform="translate(0,1798.4) scale(1,0.45)" stroke="#3e3e3e" stroke-width="2.8"/>
<use href="#mLw" transform="translate(0,1800.9) scale(1,0.45)" stroke="#3e3e3e" stroke-width="3.3"/>
<use href="#mLw" transform="translate(0,1803.9) scale(1,0.45)" stroke="#2c2c2c" stroke-width="4.2"/>
<use href="#mLw" transform="translate(0,1807.7) scale(1,0.45)" stroke="#4c4c4c" stroke-width="3.4"/>
<use href="#mLw" transform="translate(0,1810.7) scale(1,0.45)" stroke="#545454" stroke-width="2.2"/>
<use href="#mLw" transform="translate(0,1812.7) scale(1,0.45)" stroke="#464646" stroke-width="3.8"/>
<use href="#mLw" transform="translate(0,1816.1) scale(1,0.45)" stroke="#2c2c2c" stroke-width="2.2"/>
<use href="#mLw" transform="translate(0,1818.1) scale(1,0.45)" stroke="#303030" stroke-width="3.1"/>
<use href="#mLw" transform="translate(0,1820.9) scale(1,0.45)" stroke="#303030" stroke-width="4.2"/>
<use href="#mLw" transform="translate(0,1824.7) scale(1,0.45)" stroke="#202020" stroke-width="3.7"/>
<use href="#mLw" transform="translate(0,1828) scale(1,0.45)" stroke="#202020" stroke-width="2.9"/>
<use href="#mLw" transform="translate(0,1830.7) scale(1,0.45)" stroke="#303030" stroke-width="2.6"/>
<use href="#mLw" transform="translate(0,1833) scale(1,0.45)" stroke="#4c4c4c" stroke-width="3.6"/>
<use href="#mLw" transform="translate(0,1836.2) scale(1,0.45)" stroke="#464646" stroke-width="2.1"/>
<use href="#mLw" transform="translate(0,1838.1) scale(1,0.45)" stroke="#4c4c4c" stroke-width="2.2"/>
<use href="#mLw" transform="translate(0,1840.1) scale(1,0.45)" stroke="#202020" stroke-width="3.7"/>
<use href="#mLw" transform="translate(0,1843.4) scale(1,0.45)" stroke="#707070" stroke-width="3.5"/>
<use href="#mLw" transform="translate(0,1846.5) scale(1,0.45)" stroke="#2c2c2c" stroke-width="2.5"/>
<use href="#mLw" transform="translate(0,1848.8) scale(1,0.45)" stroke="#4c4c4c" stroke-width="3.9"/>
<use href="#mLw" transform="translate(0,1852.3) scale(1,0.45)" stroke="#2c2c2c" stroke-width="2.2"/>
<use href="#mLw" transform="translate(0,1854.2) scale(1,0.45)" stroke="#626262" stroke-width="3.6"/>
<use href="#mLw" transform="translate(0,1857.4) scale(1,0.45)" stroke="#3e3e3e" stroke-width="3.3"/>
<path d="M499.5 1767.6 L513.5 1767.6 L527.5 1767.6 L541.5 1767.6 L555.5 1767.6 L569.5 1767.6 L583.5 1767.6 L597.5 1761.1 L611.5 1750.1 L625.5 1741.1 L639.5 1741.8 L653.5 1745.8 L667.5 1750.8 L681.5 1756.4 L695.5 1761.9 L709.5 1766.7 L723.5 1770.3 L737.5 1770.4 L751.5 1767.8 L765.5 1764.5 L779.5 1760.6 L793.5 1756.4 L807.5 1752.1 L821.5 1748 L835.5 1744.5 L849.5 1741.6 L863.5 1739.9 L877.5 1742.1 L891.5 1745.1 L905.5 1748.8 L919.5 1752.9 L933.5 1757.1 L947.5 1761.3 L961.5 1765.1 L975.5 1768.3 L989.5 1770.7 L1003.5 1770.2 L1017.5 1767.3 L1031.5 1763.5 L1045.5 1759.2 L1059.5 1754.6 L1073.5 1750.1 L1087.5 1746 L1101.5 1742.6 L1115.5 1740.1 L1129.5 1741.5 L1143.5 1744.4 L1157.5 1748.1 L1171.5 1752.3 L1185.5 1756.7 L1199.5 1761.1 L1213.5 1765 L1227.5 1768.3 L1241.5 1770.8 L1255.5 1770.2 L1269.5 1767.7 L1283.5 1764.6 L1297.5 1761 L1311.5 1757 L1325.5 1753 L1339.5 1749.1 L1353.5 1745.6 L1367.5 1742.7 L1381.5 1740.4 L1395.5 1741.3 L1409.5 1745.1 L1423.5 1749.9 L1437.5 1755.4 L1451.5 1760.9 L1465.5 1765.8 L1479.5 1769.6 L1493.5 1770.8 L1507.5 1768.3 L1521.5 1765 L1535.5 1761.1 L1549.5 1756.7 L1563.5 1752.3 L1577.5 1748.1 L1591.5 1744.4 L1605.5 1741.5 L1619.5 1740.1 L1633.5 1742.3 L1647.5 1745.2 L1661.5 1748.8 L1675.5 1752.8 L1689.5 1756.9 L1703.5 1761 L1717.5 1764.8 L1731.5 1768 L1745.5 1770.4 L1759.5 1770.4 L1773.5 1767.4 L1787.5 1763.4 L1801.5 1758.8 L1815.5 1753.8 L1829.5 1749.1 L1843.5 1744.8 L1857.5 1741.5 L1871.5 1740.2 L1885.5 1742.3 L1899.5 1745.2 L1913.5 1748.6 L1927.5 1752.4 L1941.5 1756.5 L1955.5 1760.4 L1969.5 1764.1 L1983.5 1767.3 L1997.5 1769.9 L2011.5 1771.1 L2025.5 1768.6 L2039.5 1765.2 L2053.5 1761.1 L2067.5 1756.6 L2081.5 1752 L2095.5 1747.7 L2109.5 1743.9 L2123.5 1741 L2137.5 1740.5 L2151.5 1743.1 L2165.5 1746.4 L2179.5 1750.4 L2193.5 1754.8 L2207.5 1759.2 L2221.5 1763.4 L2235.5 1767 L2249.5 1769.9 L2263.5 1770.9 L2271.3 1769.5 L2271.3 1824 L569.5 1824Z" fill="#9e9e9e"/>
<use href="#mLw" transform="translate(45,1758) scale(1,0.48)" stroke="#c8c8c8" stroke-width="4.1"/>
<use href="#mLw" transform="translate(45,1761.7) scale(1,0.46)" stroke="#d0d0d0" stroke-width="2.3"/>
<use href="#mLw" transform="translate(45,1763.7) scale(1,0.45)" stroke="#dcdcdc" stroke-width="3.4"/>
<use href="#mLw" transform="translate(45,1766.8) scale(1,0.43)" stroke="#e4e4e4" stroke-width="2.4"/>
<use href="#mLw" transform="translate(45,1769) scale(1,0.42)" stroke="#d0d0d0" stroke-width="4.5"/>
<use href="#mLw" transform="translate(45,1773) scale(1,0.39)" stroke="#b0b0b0" stroke-width="4.7"/>
<use href="#mLw" transform="translate(45,1777.2) scale(1,0.37)" stroke="#585858" stroke-width="2.7"/>
<use href="#mLw" transform="translate(45,1779.7) scale(1,0.35)" stroke="#989898" stroke-width="2.6"/>
<use href="#mLw" transform="translate(45,1782) scale(1,0.34)" stroke="#808080" stroke-width="2.3"/>
<use href="#mLw" transform="translate(45,1784.1) scale(1,0.33)" stroke="#c8c8c8" stroke-width="2.4"/>
<use href="#mLw" transform="translate(45,1786.2) scale(1,0.31)" stroke="#585858" stroke-width="4.9"/>
<use href="#mLw" transform="translate(45,1790.6) scale(1,0.29)" stroke="#d4d4d4" stroke-width="2.3"/>
<use href="#mLw" transform="translate(45,1792.7) scale(1,0.28)" stroke="#b4b4b4" stroke-width="3.4"/>
<use href="#mLw" transform="translate(45,1795.8) scale(1,0.26)" stroke="#848484" stroke-width="2.6"/>
<use href="#mLw" transform="translate(45,1798.1) scale(1,0.24)" stroke="#6c6c6c" stroke-width="2.2"/>
<use href="#mLw" transform="translate(45,1800.1) scale(1,0.23)" stroke="#b4b4b4" stroke-width="2.8"/>
<use href="#mLw" transform="translate(45,1802.6) scale(1,0.22)" stroke="#848484" stroke-width="4"/>
<use href="#mLw" transform="translate(45,1806.3) scale(1,0.20)" stroke="#b4b4b4" stroke-width="3.3"/>
<use href="#mLw" transform="translate(45,1809.3) scale(1,0.18)" stroke="#545454" stroke-width="2.1"/>
<use href="#mLw" transform="translate(45,1811.1) scale(1,0.17)" stroke="#a0a0a0" stroke-width="3.6"/>
<use href="#mLw" transform="translate(45,1814.3) scale(1,0.15)" stroke="#989898" stroke-width="2.2"/>
<use href="#mLw" transform="translate(45,1816.3) scale(1,0.14)" stroke="#646464" stroke-width="3.4"/>
<use href="#mLw" transform="translate(45,1819.4) scale(1,0.12)" stroke="#c0c0c0" stroke-width="3.8"/>
<use href="#mLw" transform="translate(45,1822.8) scale(1,0.12)" stroke="#787878" stroke-width="3.9"/>
<use href="#mLw" transform="translate(45,1826.3) scale(1,0.12)" stroke="#6c6c6c" stroke-width="2.8"/>
<use href="#mLw" transform="translate(45,1828.9) scale(1,0.12)" stroke="#646464" stroke-width="2.1"/>
<use href="#mLw" transform="translate(45,1830.8) scale(1,0.12)" stroke="#8c8c8c" stroke-width="4.9"/>
<use href="#mLw" transform="translate(45,1835.2) scale(1,0.12)" stroke="#989898" stroke-width="4.8"/>
<use href="#mLw" transform="translate(45,1839.5) scale(1,0.12)" stroke="#646464" stroke-width="4.9"/>
<use href="#mLw" transform="translate(45,1843.9) scale(1,0.12)" stroke="#a0a0a0" stroke-width="2.1"/>
<use href="#mLw" transform="translate(45,1845.8) scale(1,0.12)" stroke="#444444" stroke-width="2.7"/>
<use href="#mLw" transform="translate(45,1848.3) scale(1,0.12)" stroke="#545454" stroke-width="3"/>
<rect x="569.5" y="1360.3" width="1701.8" height="458.7" fill="#000" filter="url(#fStreak)" opacity="0.38"/>
<rect x="569.5" y="1360.3" width="1701.8" height="458.7" fill="#fff" filter="url(#fStreakW)" opacity="0.2"/>
<path d="M499.5 1529 L513.5 1529 L527.5 1529 L541.5 1529 L555.5 1529 L569.5 1529 L583.5 1528.2 L597.5 1526.6 L611.5 1524.2 L625.5 1521.2 L639.5 1517.9 L653.5 1514.4 L667.5 1511 L681.5 1508 L695.5 1505.6 L709.5 1503.9 L723.5 1503.1 L737.5 1503.7 L751.5 1507.3 L765.5 1513.3 L779.5 1520.1 L793.5 1525.7 L807.5 1528.7 L821.5 1528.5 L835.5 1525.3 L849.5 1519.7 L863.5 1512.4 L877.5 1504.2 L891.5 1496.3 L905.5 1489.6 L919.5 1485 L933.5 1483 L947.5 1483.7 L961.5 1486.5 L975.5 1491 L989.5 1496.9 L1003.5 1503.5 L1017.5 1510.2 L1031.5 1516.2 L1045.5 1521 L1059.5 1524 L1073.5 1525 L1087.5 1523.7 L1101.5 1520.1 L1115.5 1514.9 L1129.5 1509 L1143.5 1503.3 L1157.5 1498.8 L1171.5 1496.4 L1185.5 1496.2 L1199.5 1497.5 L1213.5 1500.2 L1227.5 1503.9 L1241.5 1508.4 L1255.5 1513.3 L1269.5 1518.3 L1283.5 1522.8 L1297.5 1526.6 L1311.5 1529.3 L1325.5 1530.8 L1339.5 1530.7 L1353.5 1527.8 L1367.5 1523.1 L1381.5 1518.6 L1395.5 1516.2 L1409.5 1515.7 L1423.5 1514.2 L1437.5 1511.8 L1451.5 1509 L1465.5 1506.7 L1479.5 1505.3 L1493.5 1505.2 L1507.5 1508 L1521.5 1513.2 L1535.5 1519.6 L1549.5 1525.6 L1563.5 1529.7 L1577.5 1531 L1591.5 1528.6 L1605.5 1522.8 L1619.5 1514.6 L1633.5 1505.9 L1647.5 1498.3 L1661.5 1493.3 L1675.5 1492 L1689.5 1493 L1703.5 1495.3 L1717.5 1498.7 L1731.5 1502.9 L1745.5 1507.6 L1759.5 1512.4 L1773.5 1516.9 L1787.5 1520.6 L1801.5 1523.4 L1815.5 1524.8 L1829.5 1524.8 L1843.5 1522.8 L1857.5 1519 L1871.5 1514.2 L1885.5 1509 L1899.5 1504.5 L1913.5 1501.3 L1927.5 1500 L1941.5 1500.6 L1955.5 1502.6 L1969.5 1505.9 L1983.5 1510.1 L1997.5 1514.8 L2011.5 1519.6 L2025.5 1524 L2039.5 1527.6 L2053.5 1530 L2067.5 1531 L2081.5 1530.4 L2095.5 1528.3 L2109.5 1524.9 L2123.5 1520.6 L2137.5 1516 L2151.5 1511.6 L2165.5 1508.1 L2179.5 1505.8 L2193.5 1505 L2207.5 1505.8 L2221.5 1508 L2235.5 1510.8 L2249.5 1513.6 L2263.5 1515.5 L2271.3 1515.9 L2271.3 1668.9 L2263.5 1674.6 L2249.5 1684.3 L2235.5 1692.6 L2221.5 1698.9 L2207.5 1698.8 L2193.5 1693.2 L2179.5 1686 L2165.5 1677.5 L2151.5 1668.3 L2137.5 1659.2 L2123.5 1650.6 L2109.5 1643.3 L2095.5 1637.5 L2081.5 1636.6 L2067.5 1642.2 L2053.5 1649.7 L2039.5 1658.5 L2025.5 1668 L2011.5 1677.5 L1997.5 1686.3 L1983.5 1693.8 L1969.5 1699.4 L1955.5 1698.7 L1941.5 1693.7 L1927.5 1687.3 L1913.5 1679.8 L1899.5 1671.6 L1885.5 1663.2 L1871.5 1655.1 L1857.5 1647.7 L1843.5 1641.5 L1829.5 1636.7 L1815.5 1637.5 L1801.5 1643.9 L1787.5 1652.4 L1773.5 1662.1 L1759.5 1672.4 L1745.5 1682.3 L1731.5 1691 L1717.5 1697.7 L1703.5 1699.8 L1689.5 1695 L1675.5 1688.7 L1661.5 1681.1 L1647.5 1672.7 L1633.5 1664 L1619.5 1655.5 L1605.5 1647.8 L1591.5 1641.4 L1577.5 1636.5 L1563.5 1637.5 L1549.5 1643.3 L1535.5 1650.6 L1521.5 1659.2 L1507.5 1668.3 L1493.5 1677.5 L1479.5 1686 L1465.5 1693.2 L1451.5 1698.8 L1437.5 1698.6 L1423.5 1691.2 L1409.5 1681.4 L1395.5 1670.1 L1381.5 1658.6 L1367.5 1648.1 L1353.5 1639.7 L1339.5 1635.6 L1325.5 1640 L1311.5 1645.8 L1297.5 1652.9 L1283.5 1660.8 L1269.5 1669.2 L1255.5 1677.5 L1241.5 1685.2 L1227.5 1692 L1213.5 1697.4 L1199.5 1700.6 L1185.5 1695.8 L1171.5 1689.3 L1157.5 1681.2 L1143.5 1672.3 L1129.5 1663 L1115.5 1654.1 L1101.5 1646.2 L1087.5 1639.8 L1073.5 1635.1 L1059.5 1639.6 L1045.5 1646.3 L1031.5 1654.6 L1017.5 1663.9 L1003.5 1673.5 L989.5 1682.7 L975.5 1690.8 L961.5 1697.2 L947.5 1700.4 L933.5 1695.7 L919.5 1689.3 L905.5 1681.7 L891.5 1673.1 L877.5 1664.2 L863.5 1655.5 L849.5 1647.7 L835.5 1641.1 L821.5 1636.2 L807.5 1637.8 L793.5 1643.4 L779.5 1650.5 L765.5 1658.8 L751.5 1667.7 L737.5 1676.6 L723.5 1684.9 L709.5 1692.1 L695.5 1697.9 L681.5 1699.8 L667.5 1692.9 L653.5 1683.4 L639.5 1672.2 L625.5 1660.5 L611.5 1649.7 L597.5 1640.8 L583.5 1635.3 L569.5 1651.7 L555.5 1674.8 L541.5 1691.9 L527.5 1693 L513.5 1693 L499.5 1693Z" fill="#181818"/>
<clipPath id="cpMc"><path d="M499.5 1529 L513.5 1529 L527.5 1529 L541.5 1529 L555.5 1529 L569.5 1529 L583.5 1528.2 L597.5 1526.6 L611.5 1524.2 L625.5 1521.2 L639.5 1517.9 L653.5 1514.4 L667.5 1511 L681.5 1508 L695.5 1505.6 L709.5 1503.9 L723.5 1503.1 L737.5 1503.7 L751.5 1507.3 L765.5 1513.3 L779.5 1520.1 L793.5 1525.7 L807.5 1528.7 L821.5 1528.5 L835.5 1525.3 L849.5 1519.7 L863.5 1512.4 L877.5 1504.2 L891.5 1496.3 L905.5 1489.6 L919.5 1485 L933.5 1483 L947.5 1483.7 L961.5 1486.5 L975.5 1491 L989.5 1496.9 L1003.5 1503.5 L1017.5 1510.2 L1031.5 1516.2 L1045.5 1521 L1059.5 1524 L1073.5 1525 L1087.5 1523.7 L1101.5 1520.1 L1115.5 1514.9 L1129.5 1509 L1143.5 1503.3 L1157.5 1498.8 L1171.5 1496.4 L1185.5 1496.2 L1199.5 1497.5 L1213.5 1500.2 L1227.5 1503.9 L1241.5 1508.4 L1255.5 1513.3 L1269.5 1518.3 L1283.5 1522.8 L1297.5 1526.6 L1311.5 1529.3 L1325.5 1530.8 L1339.5 1530.7 L1353.5 1527.8 L1367.5 1523.1 L1381.5 1518.6 L1395.5 1516.2 L1409.5 1515.7 L1423.5 1514.2 L1437.5 1511.8 L1451.5 1509 L1465.5 1506.7 L1479.5 1505.3 L1493.5 1505.2 L1507.5 1508 L1521.5 1513.2 L1535.5 1519.6 L1549.5 1525.6 L1563.5 1529.7 L1577.5 1531 L1591.5 1528.6 L1605.5 1522.8 L1619.5 1514.6 L1633.5 1505.9 L1647.5 1498.3 L1661.5 1493.3 L1675.5 1492 L1689.5 1493 L1703.5 1495.3 L1717.5 1498.7 L1731.5 1502.9 L1745.5 1507.6 L1759.5 1512.4 L1773.5 1516.9 L1787.5 1520.6 L1801.5 1523.4 L1815.5 1524.8 L1829.5 1524.8 L1843.5 1522.8 L1857.5 1519 L1871.5 1514.2 L1885.5 1509 L1899.5 1504.5 L1913.5 1501.3 L1927.5 1500 L1941.5 1500.6 L1955.5 1502.6 L1969.5 1505.9 L1983.5 1510.1 L1997.5 1514.8 L2011.5 1519.6 L2025.5 1524 L2039.5 1527.6 L2053.5 1530 L2067.5 1531 L2081.5 1530.4 L2095.5 1528.3 L2109.5 1524.9 L2123.5 1520.6 L2137.5 1516 L2151.5 1511.6 L2165.5 1508.1 L2179.5 1505.8 L2193.5 1505 L2207.5 1505.8 L2221.5 1508 L2235.5 1510.8 L2249.5 1513.6 L2263.5 1515.5 L2271.3 1515.9 L2271.3 1668.9 L2263.5 1674.6 L2249.5 1684.3 L2235.5 1692.6 L2221.5 1698.9 L2207.5 1698.8 L2193.5 1693.2 L2179.5 1686 L2165.5 1677.5 L2151.5 1668.3 L2137.5 1659.2 L2123.5 1650.6 L2109.5 1643.3 L2095.5 1637.5 L2081.5 1636.6 L2067.5 1642.2 L2053.5 1649.7 L2039.5 1658.5 L2025.5 1668 L2011.5 1677.5 L1997.5 1686.3 L1983.5 1693.8 L1969.5 1699.4 L1955.5 1698.7 L1941.5 1693.7 L1927.5 1687.3 L1913.5 1679.8 L1899.5 1671.6 L1885.5 1663.2 L1871.5 1655.1 L1857.5 1647.7 L1843.5 1641.5 L1829.5 1636.7 L1815.5 1637.5 L1801.5 1643.9 L1787.5 1652.4 L1773.5 1662.1 L1759.5 1672.4 L1745.5 1682.3 L1731.5 1691 L1717.5 1697.7 L1703.5 1699.8 L1689.5 1695 L1675.5 1688.7 L1661.5 1681.1 L1647.5 1672.7 L1633.5 1664 L1619.5 1655.5 L1605.5 1647.8 L1591.5 1641.4 L1577.5 1636.5 L1563.5 1637.5 L1549.5 1643.3 L1535.5 1650.6 L1521.5 1659.2 L1507.5 1668.3 L1493.5 1677.5 L1479.5 1686 L1465.5 1693.2 L1451.5 1698.8 L1437.5 1698.6 L1423.5 1691.2 L1409.5 1681.4 L1395.5 1670.1 L1381.5 1658.6 L1367.5 1648.1 L1353.5 1639.7 L1339.5 1635.6 L1325.5 1640 L1311.5 1645.8 L1297.5 1652.9 L1283.5 1660.8 L1269.5 1669.2 L1255.5 1677.5 L1241.5 1685.2 L1227.5 1692 L1213.5 1697.4 L1199.5 1700.6 L1185.5 1695.8 L1171.5 1689.3 L1157.5 1681.2 L1143.5 1672.3 L1129.5 1663 L1115.5 1654.1 L1101.5 1646.2 L1087.5 1639.8 L1073.5 1635.1 L1059.5 1639.6 L1045.5 1646.3 L1031.5 1654.6 L1017.5 1663.9 L1003.5 1673.5 L989.5 1682.7 L975.5 1690.8 L961.5 1697.2 L947.5 1700.4 L933.5 1695.7 L919.5 1689.3 L905.5 1681.7 L891.5 1673.1 L877.5 1664.2 L863.5 1655.5 L849.5 1647.7 L835.5 1641.1 L821.5 1636.2 L807.5 1637.8 L793.5 1643.4 L779.5 1650.5 L765.5 1658.8 L751.5 1667.7 L737.5 1676.6 L723.5 1684.9 L709.5 1692.1 L695.5 1697.9 L681.5 1699.8 L667.5 1692.9 L653.5 1683.4 L639.5 1672.2 L625.5 1660.5 L611.5 1649.7 L597.5 1640.8 L583.5 1635.3 L569.5 1651.7 L555.5 1674.8 L541.5 1691.9 L527.5 1693 L513.5 1693 L499.5 1693Z"/></clipPath>
<g clip-path="url(#cpMc)"><rect x="569.5" y="1475" width="1701.8" height="240" fill="#fff" filter="url(#fSpeck)" opacity="0.2"/>
<path d="M640 1571L700 1569" stroke="#5e5e5e" stroke-width="3" stroke-linecap="round"/>
<path d="M813 1586L850 1587" stroke="#5e5e5e" stroke-width="3" stroke-linecap="round"/>
<path d="M1015 1579L1100 1592" stroke="#5e5e5e" stroke-width="3" stroke-linecap="round"/>
<path d="M1405 1568L1450 1567" stroke="#5e5e5e" stroke-width="3" stroke-linecap="round"/>
<path d="M1575 1584L1610 1588" stroke="#5e5e5e" stroke-width="3" stroke-linecap="round"/>
<path d="M1780 1580L1850 1594" stroke="#5e5e5e" stroke-width="3" stroke-linecap="round"/>
<path d="M2140 1567L2180 1566" stroke="#5e5e5e" stroke-width="3" stroke-linecap="round"/>
</g>
<use href="#mUw" transform="translate(0,1508)" stroke="#5e5e5e" stroke-width="3.5"/>
<use href="#mUw" transform="translate(0,1490) scale(1,0.9)" stroke="#6a6a6a" stroke-width="3"/>
<use href="#mLw" transform="translate(0,1675)" stroke="#4c4c4c" stroke-width="3.5"/>
<use href="#mLw" transform="translate(0,1682)" stroke="#686868" stroke-width="3"/>
<rect x="569.5" y="1360.3" width="2.5" height="458.7" fill="#111"/>
<rect x="2212" y="1360" width="60" height="42" fill="#4a4a4a"/>
<path d="M2217 1362L2244 1391M2244 1391L2266 1366" stroke="#fff" stroke-width="7" stroke-linecap="round" fill="none"/><circle cx="2244" cy="1392" r="8.5" fill="#fff"/><circle cx="2264" cy="1366" r="8" fill="#fff"/>
</g>
<path d="M544.4 2046H588.5M544.4 2171.4H588.5M544.4 2296.6H588.5M544.4 2422.3H588.5M544.4 2547.4H588.5M588.5 2041V2673.4M544.4 2673.4H1142M745 2673.4V2717M980.5 2673.4V2717" stroke="#000" stroke-width="10.2" fill="none"/>
<path d="M675.3 2668.3V2131.5H816V2668.3" fill="none" stroke="#383838" stroke-width="15.4"/>
<path d="M909.5 2668.3V2290.5H1049.5V2668.3" fill="none" stroke="#800000" stroke-width="15.4"/>
<path d="M745 2089V2156M708 2089H784M708 2156H784" stroke="#000" stroke-width="4.7" fill="none"/>
<path d="M980.5 2268V2297M942 2268H1019M942 2297H1019" stroke="#000" stroke-width="4.7" fill="none"/>
<ellipse cx="714.3" cy="2095.6" rx="15.4" ry="15.9" fill="none" stroke="#000" stroke-width="9.8"/>
<ellipse cx="777" cy="2113" rx="15.4" ry="15.9" fill="none" stroke="#000" stroke-width="9.8"/>
<ellipse cx="745.7" cy="2161" rx="15.4" ry="15.9" fill="none" stroke="#000" stroke-width="9.8"/>
<ellipse cx="918" cy="2295" rx="15.4" ry="15.9" fill="none" stroke="#000" stroke-width="9.8"/>
<ellipse cx="981" cy="2268.8" rx="15.4" ry="15.9" fill="none" stroke="#000" stroke-width="9.8"/>
<ellipse cx="1043.4" cy="2281" rx="15.4" ry="15.9" fill="none" stroke="#000" stroke-width="9.8"/>
<path d="M744 2045.6H980.7" stroke="#000" stroke-width="5.6" fill="none"/><path d="M744 2022.8V2069.4M980.7 2022.8V2069.4" stroke="#000" stroke-width="4.7" fill="none"/>
<text transform="translate(833.8 1967.2) scale(0.909 1)" x="0" y="60.1" font-family='"DejaVu Sans","Liberation Sans",sans-serif' font-weight="bold" font-size="117.7" text-anchor="middle" fill="#000">*</text>
<text transform="translate(899.5 1967.2) scale(0.909 1)" x="0" y="60.1" font-family='"DejaVu Sans","Liberation Sans",sans-serif' font-weight="bold" font-size="117.7" text-anchor="middle" fill="#000">*</text>
<text x="532.5" y="2079" font-family='"Liberation Serif",serif' font-size="87" font-weight="bold" text-anchor="end" textLength="123" lengthAdjust="spacingAndGlyphs">100</text>
<text x="532.5" y="2204.4" font-family='"Liberation Serif",serif' font-size="87" font-weight="bold" text-anchor="end" textLength="82" lengthAdjust="spacingAndGlyphs">80</text>
<text x="532.5" y="2329.6" font-family='"Liberation Serif",serif' font-size="87" font-weight="bold" text-anchor="end" textLength="82" lengthAdjust="spacingAndGlyphs">60</text>
<text x="532.5" y="2455.3" font-family='"Liberation Serif",serif' font-size="87" font-weight="bold" text-anchor="end" textLength="82" lengthAdjust="spacingAndGlyphs">40</text>
<text x="532.5" y="2580.4" font-family='"Liberation Serif",serif' font-size="87" font-weight="bold" text-anchor="end" textLength="82" lengthAdjust="spacingAndGlyphs">20</text>
<text x="532.5" y="2706.4" font-family='"Liberation Serif",serif' font-size="87" font-weight="bold" text-anchor="end" textLength="41" lengthAdjust="spacingAndGlyphs">0</text>
<text x="348.5" y="2505" font-family='"Liberation Serif",serif' font-size="86" font-weight="bold" textLength="108" lengthAdjust="spacingAndGlyphs" transform="rotate(-90 348.5 2505)">EF</text>
<text x="348.5" y="2345" font-family='"Liberation Serif",serif' font-size="86" font-weight="bold" textLength="140" lengthAdjust="spacingAndGlyphs" transform="rotate(-90 348.5 2345)">(%)</text>
<text x="775" y="2795" font-family='"Liberation Serif",serif' font-size="88" font-weight="bold" text-anchor="end" transform="rotate(-45 775 2795)">Sham</text>
<text x="1011" y="2795" font-family='"Liberation Serif",serif' font-size="88" font-weight="bold" text-anchor="end" transform="rotate(-45 1011 2795)">MI/R</text>
</g>
<!-- Panel C -->
<g id="panelC">
<text x="1248" y="1982" font-family='"Liberation Serif",serif' font-size="97" font-weight="bold">C</text>
<text x="1471" y="2356" font-family='"Liberation Serif",serif' font-size="97" font-weight="bold" text-anchor="middle" textLength="849" lengthAdjust="spacingAndGlyphs" transform="rotate(-90 1471 2356)">Relative mRNA level</text>
<circle cx="1615.7" cy="1966.6" r="15" fill="none" stroke="#000" stroke-width="10.2"/>
<text x="1733" y="1995" font-family='"Liberation Serif",serif' font-size="97" textLength="205" lengthAdjust="spacingAndGlyphs">Sham</text>
<circle cx="1993" cy="1966.6" r="15" fill="none" stroke="#800000" stroke-width="10.2"/>
<text x="2106.5" y="1994.5" font-family='"Liberation Serif",serif' font-size="97" textLength="201" lengthAdjust="spacingAndGlyphs">MI/R</text>
<path d="M1766.8 2118.9V2308.4M1723.8 2123.7H1766.8M1723.8 2213.2H1766.8M1741.3 2303.5H1792.3" stroke="#000" stroke-width="10" fill="none"/>
<path d="M1766.8 2373.3V2607.6M1741.3 2378.3H1792.3M1723.8 2493.4H1766.8M1723.8 2607.6H2399M1912.7 2607.6V2652M2250 2607.6V2652" stroke="#000" stroke-width="10" fill="none"/>
<path d="M1814.7 2602.6V2501H1885V2602.6" fill="none" stroke="#363636" stroke-width="14"/>
<path d="M2152 2602.6V2501H2222V2602.6" fill="none" stroke="#363636" stroke-width="14"/>
<path d="M1935 2601.5H2017.6" fill="none" stroke="#800000" stroke-width="4"/>
<path d="M2277.6 2303.4V2181.6H2346.9V2303.4M2277.6 2378.3V2602.6M2346.9 2378.3V2602.6" fill="none" stroke="#800000" stroke-width="15.3"/>
<circle cx="1850" cy="2493" r="14.2" fill="none" stroke="#000" stroke-width="10"/>
<circle cx="2186" cy="2493" r="14.2" fill="none" stroke="#000" stroke-width="10"/>
<circle cx="1977.6" cy="2599" r="14.2" fill="none" stroke="#800000" stroke-width="10"/>
<circle cx="2311.6" cy="2174" r="14.2" fill="none" stroke="#800000" stroke-width="10"/>
<path d="M1848.5 2401H1978.6M1848.5 2389.7V2412.4M1978.6 2389.7V2412.4" stroke="#000" stroke-width="2.6" fill="none"/>
<path d="M2174.5 2127.8H2311M2174.5 2116.6V2139.5M2311 2116.6V2139.5" stroke="#000" stroke-width="2.6" fill="none"/>
<text transform="translate(1879.3 2328.5) scale(0.918 1)" x="0" y="62.8" font-family='"DejaVu Sans","Liberation Sans",sans-serif' font-weight="bold" font-size="123.1" text-anchor="middle" fill="#000">*</text>
<text transform="translate(1952.7 2328.5) scale(0.918 1)" x="0" y="62.8" font-family='"DejaVu Sans","Liberation Sans",sans-serif' font-weight="bold" font-size="123.1" text-anchor="middle" fill="#000">*</text>
<text transform="translate(2208.7 2056.5) scale(0.922 1)" x="0" y="63.2" font-family='"DejaVu Sans","Liberation Sans",sans-serif' font-weight="bold" font-size="123.8" text-anchor="middle" fill="#000">*</text>
<text transform="translate(2282 2056.5) scale(0.922 1)" x="0" y="63.2" font-family='"DejaVu Sans","Liberation Sans",sans-serif' font-weight="bold" font-size="123.8" text-anchor="middle" fill="#000">*</text>
<text x="1713" y="2158.5" font-family='"Liberation Serif",serif' font-size="97" font-weight="bold" text-anchor="end" textLength="189.2" lengthAdjust="spacingAndGlyphs">3500</text>
<text x="1713" y="2248" font-family='"Liberation Serif",serif' font-size="97" font-weight="bold" text-anchor="end" textLength="189.2" lengthAdjust="spacingAndGlyphs">2500</text>
<text x="1713" y="2338.3" font-family='"Liberation Serif",serif' font-size="97" font-weight="bold" text-anchor="end" textLength="189.2" lengthAdjust="spacingAndGlyphs">1500</text>
<text x="1713" y="2413.1" font-family='"Liberation Serif",serif' font-size="97" font-weight="bold" text-anchor="end" textLength="141.9" lengthAdjust="spacingAndGlyphs">200</text>
<text x="1713" y="2528.2" font-family='"Liberation Serif",serif' font-size="97" font-weight="bold" text-anchor="end" textLength="141.9" lengthAdjust="spacingAndGlyphs">100</text>
<text x="1713" y="2642.4" font-family='"Liberation Serif",serif' font-size="97" font-weight="bold" text-anchor="end" textLength="47.3" lengthAdjust="spacingAndGlyphs">0</text>
<text x="1945" y="2733.5" font-family='"Liberation Serif",serif' font-size="96" font-weight="bold" text-anchor="end" transform="rotate(-45 1945 2733.5)">GPX4</text>
<text x="2282" y="2734" font-family='"Liberation Serif",serif' font-size="96" font-weight="bold" text-anchor="end" transform="rotate(-45 2282 2734)">ACSL4</text>
</g>
<!-- Panel D -->
<g id="panelD">
<text x="60" y="3140" font-family='"Liberation Serif",serif' font-size="97" font-weight="bold">D</text>
<defs>
<filter id="bl3" x="-20%" y="-50%" width="140%" height="200%"><feGaussianBlur stdDeviation="3"/></filter>
<filter id="bl5" x="-20%" y="-50%" width="140%" height="200%"><feGaussianBlur stdDeviation="5.5"/></filter>
<filter id="bl9" x="-20%" y="-50%" width="140%" height="200%"><feGaussianBlur stdDeviation="10"/></filter>
<filter id="bl3u" filterUnits="userSpaceOnUse" x="400" y="3380" width="1000" height="620"><feGaussianBlur stdDeviation="3.2"/></filter>
<filter id="bl1" x="-5%" y="-20%" width="110%" height="140%"><feGaussianBlur stdDeviation="1.6"/></filter>
<filter id="fGrain" x="0" y="0" width="100%" height="100%" color-interpolation-filters="sRGB">
<feTurbulence type="fractalNoise" baseFrequency="0.06 0.06" numOctaves="3" seed="4" result="n"/>
<feColorMatrix in="n" type="matrix" values="0 0 0 0 0  0 0 0 0 0  0 0 0 0 0  1.4 0 0 0 -0.45"/>
</filter>
<linearGradient id="gG" x1="0" y1="0" x2="0" y2="1"><stop offset="0" stop-color="#dadada"/><stop offset="0.55" stop-color="#d2d2d2"/><stop offset="0.86" stop-color="#e2e2e2"/><stop offset="1" stop-color="#fafafa"/></linearGradient>
<clipPath id="cpG1"><rect x="430" y="3392" width="934" height="181"/></clipPath>
<clipPath id="cpG2"><rect x="430" y="3592" width="934" height="180"/></clipPath>
<clipPath id="cpG3"><rect x="430" y="3791" width="934" height="180"/></clipPath>
</defs>
<g filter="url(#bl1)">
<text x="541" y="3304" font-family='"Liberation Serif",serif' font-size="84" font-weight="bold" textLength="208" lengthAdjust="spacingAndGlyphs">Sham</text>
<text x="1032" y="3304" font-family='"Liberation Serif",serif' font-size="84" font-weight="bold" textLength="204" lengthAdjust="spacingAndGlyphs">MI/R</text>
<path d="M424.5 3367H869M904 3367H1359.5" stroke="#333" stroke-width="8"/>
<text x="424" y="3487" font-family='"Liberation Serif",serif' font-size="84" font-weight="bold" text-anchor="end" textLength="224" lengthAdjust="spacingAndGlyphs">GPX4</text>
<text x="424" y="3686.5" font-family='"Liberation Serif",serif' font-size="84" font-weight="bold" text-anchor="end" textLength="270" lengthAdjust="spacingAndGlyphs">ACSL4</text>
<text x="424" y="3882" font-family='"Liberation Serif",serif' font-size="84" font-weight="bold" text-anchor="end" textLength="306" lengthAdjust="spacingAndGlyphs">GAPDH</text>
<text x="1394" y="3487" font-family='"Liberation Serif",serif' font-size="84" font-weight="bold" textLength="208" lengthAdjust="spacingAndGlyphs">22KD</text>
<text x="1394" y="3686.5" font-family='"Liberation Serif",serif' font-size="84" font-weight="bold" textLength="208" lengthAdjust="spacingAndGlyphs">79KD</text>
<text x="1394" y="3882" font-family='"Liberation Serif",serif' font-size="84" font-weight="bold" textLength="208" lengthAdjust="spacingAndGlyphs">37KD</text>
</g>
<g clip-path="url(#cpG1)">
<rect x="430" y="3392" width="934" height="181" fill="url(#gG)"/>
<rect x="446.5" y="3398" width="85.7" height="150" fill="#c6c6c6" filter="url(#bl9)"/>
<rect x="586" y="3398" width="102.8" height="150" fill="#bebebe" filter="url(#bl9)"/>
<rect x="732.9" y="3398" width="105.2" height="150" fill="#bcbcbc" filter="url(#bl9)"/>
<rect x="891.9" y="3398" width="107.7" height="150" fill="#c0c0c0" filter="url(#bl9)"/>
<rect x="1051" y="3398" width="122.4" height="150" fill="#c6c6c6" filter="url(#bl9)"/>
<rect x="1227.3" y="3398" width="102.8" height="150" fill="#cccccc" filter="url(#bl9)"/>
<rect x="448.9" y="3524" width="80.8" height="21" rx="10.5" fill="#585858" filter="url(#bl5)" opacity="1.0"/>
<rect x="588.5" y="3501" width="99.4" height="52.4" rx="22" fill="#000000" filter="url(#bl5)" opacity="1.0"/>
<rect x="593.4" y="3506.8" width="90.6" height="41.6" rx="20" fill="#000000" filter="url(#bl3)" opacity="1.0"/>
<rect x="733.8" y="3496.1" width="103.3" height="63.6" rx="22" fill="#000000" filter="url(#bl5)" opacity="1.0"/>
<rect x="737.8" y="3502" width="95.5" height="52.9" rx="20" fill="#000000" filter="url(#bl3)" opacity="1.0"/>
<rect x="762.2" y="3526.4" width="44.1" height="29.4" rx="14.7" fill="#383838" filter="url(#bl5)" opacity="0.9"/>
<rect x="891.9" y="3482.4" width="107.7" height="23.5" rx="11.7" fill="#2c2c2c" filter="url(#bl5)" opacity="1.0"/>
<rect x="894.4" y="3519.1" width="102.8" height="36.7" rx="18.4" fill="#505050" filter="url(#bl5)" opacity="1.0"/>
<rect x="894.4" y="3502" width="102.8" height="24.5" rx="12.2" fill="#707070" filter="url(#bl5)" opacity="0.8"/>
<rect x="1053.5" y="3481.4" width="117.5" height="20.6" rx="10.3" fill="#5c5c5c" filter="url(#bl5)" opacity="1.0"/>
<rect x="1053.5" y="3528.9" width="118.9" height="26.9" rx="13.5" fill="#5a5a5a" filter="url(#bl5)" opacity="1.0"/>
<rect x="1055.9" y="3499.5" width="112.6" height="31.8" rx="15.9" fill="#9a9a9a" filter="url(#bl5)" opacity="0.7"/>
<rect x="1227.3" y="3477.5" width="68.5" height="19.6" rx="9.8" fill="#848484" filter="url(#bl5)" opacity="1.0"/>
<rect x="1241.9" y="3519.1" width="88.1" height="31.8" rx="15.9" fill="#808080" filter="url(#bl5)" opacity="1.0"/>
<rect x="1305.6" y="3487.3" width="39.2" height="68.5" rx="34.3" fill="#a8a8a8" filter="url(#bl9)" opacity="0.8"/>
</g>
<rect x="430" y="3392.4" width="933.7" height="180" fill="none" stroke="#1c1c1c" stroke-width="6" rx="3" filter="url(#bl1)"/>
<g clip-path="url(#cpG2)">
<rect x="430" y="3592" width="934" height="180" fill="#bcbcbc"/>
<rect x="568.4" y="3590" width="21.6" height="186" fill="#d6d6d6" filter="url(#bl5)"/>
<rect x="728.9" y="3590" width="21.6" height="186" fill="#d6d6d6" filter="url(#bl5)"/>
<rect x="880.7" y="3590" width="21.6" height="186" fill="#d6d6d6" filter="url(#bl5)"/>
<rect x="1034.9" y="3590" width="21.6" height="186" fill="#d6d6d6" filter="url(#bl5)"/>
<rect x="1201.3" y="3590" width="21.6" height="186" fill="#d6d6d6" filter="url(#bl5)"/>
<rect x="452.5" y="3600" width="81.7" height="165" fill="#a8a8a8" filter="url(#bl9)" opacity="0.8"/>
<rect x="592" y="3600" width="98.8" height="165" fill="#acacac" filter="url(#bl9)" opacity="0.8"/>
<rect x="738.9" y="3600" width="101.2" height="165" fill="#aeaeae" filter="url(#bl9)" opacity="0.8"/>
<rect x="897.9" y="3600" width="103.7" height="165" fill="#a0a0a0" filter="url(#bl9)" opacity="0.8"/>
<rect x="1057" y="3600" width="118.4" height="165" fill="#a8a8a8" filter="url(#bl9)" opacity="0.8"/>
<rect x="1233.3" y="3600" width="98.8" height="165" fill="#acacac" filter="url(#bl9)" opacity="0.8"/>
<rect x="444.1" y="3678.2" width="117.5" height="31.8" rx="15.9" fill="#888888" filter="url(#bl5)" opacity="0.9"/>
<rect x="595.8" y="3685.5" width="107.7" height="17.1" rx="8.6" fill="#808080" filter="url(#bl5)" opacity="0.95"/>
<rect x="750" y="3687" width="115" height="15.7" rx="7.8" fill="#747474" filter="url(#bl5)" opacity="1.0"/>
<rect x="904.2" y="3683.1" width="122.4" height="20.6" rx="10.3" fill="#222222" filter="url(#bl5)" opacity="1.0"/>
<rect x="909.1" y="3687" width="112.6" height="12.7" rx="6.4" fill="#181818" filter="url(#bl3)" opacity="1.0"/>
<rect x="1060.8" y="3684" width="128.2" height="20.6" rx="10.3" fill="#484848" filter="url(#bl5)" opacity="1.0"/>
<rect x="1232.2" y="3683.1" width="124.8" height="20.6" rx="10.3" fill="#5a5a5a" filter="url(#bl5)" opacity="1.0"/>
<rect x="909.1" y="3732" width="112.6" height="26.9" rx="13.5" fill="#909090" filter="url(#bl9)" opacity="0.8"/>
<rect x="1065.7" y="3736.9" width="117.5" height="22" rx="11" fill="#989898" filter="url(#bl9)" opacity="0.7"/>
<rect x="430" y="3592" width="934" height="180" fill="#000" filter="url(#fGrain)" opacity="0.24"/>
</g>
<rect x="430" y="3592" width="933.7" height="180" fill="none" stroke="#1c1c1c" stroke-width="6" rx="3" filter="url(#bl1)"/>
<g clip-path="url(#cpG3)">
<rect x="430" y="3791" width="934" height="180" fill="#c0c0c0"/>
<rect x="569.4" y="3789" width="19.7" height="186" fill="#d4d4d4" filter="url(#bl5)"/>
<rect x="729.9" y="3789" width="19.7" height="186" fill="#d4d4d4" filter="url(#bl5)"/>
<rect x="881.7" y="3789" width="19.7" height="186" fill="#d4d4d4" filter="url(#bl5)"/>
<rect x="1038.3" y="3789" width="19.7" height="186" fill="#d4d4d4" filter="url(#bl5)"/>
<rect x="1203.8" y="3789" width="19.7" height="186" fill="#d4d4d4" filter="url(#bl5)"/>
<ellipse cx="825.9" cy="3815.2" rx="95" ry="42" fill="#8c8c8c" filter="url(#bl9)"/>
<ellipse cx="948.2" cy="3815.2" rx="60" ry="28" fill="#a0a0a0" filter="url(#bl9)"/>
<path d="M451.4 3922.7Q501.6 3940.7 551.7 3922.7" fill="none" stroke="#080808" stroke-width="30" stroke-linecap="round" filter="url(#bl3u)"/>
<path d="M608 3920.9Q657 3930.9 705.9 3920.9" fill="none" stroke="#080808" stroke-width="27" stroke-linecap="round" filter="url(#bl3u)"/>
<path d="M759.8 3917.9Q810 3927.9 860.1 3917.9" fill="none" stroke="#0c0c0c" stroke-width="26" stroke-linecap="round" filter="url(#bl3u)"/>
<path d="M916.4 3914.1Q970.3 3920.1 1024.1 3914.1" fill="none" stroke="#3a3a3a" stroke-width="22" stroke-linecap="round" filter="url(#bl3u)"/>
<path d="M1078 3915Q1131.8 3921 1185.6 3915" fill="none" stroke="#404040" stroke-width="22" stroke-linecap="round" filter="url(#bl3u)"/>
<path d="M1239.5 3917.1Q1294.6 3911.1 1349.6 3917.1" fill="none" stroke="#2c2c2c" stroke-width="25" stroke-linecap="round" filter="url(#bl3u)"/>
<rect x="430" y="3791" width="934" height="180" fill="#000" filter="url(#fGrain)" opacity="0.2"/>
</g>
<rect x="430" y="3791" width="933.7" height="180" fill="none" stroke="#1c1c1c" stroke-width="6" rx="3" filter="url(#bl1)"/>
<text x="1781" y="3700" font-family='"Liberation Serif",serif' font-size="97" font-weight="bold" text-anchor="middle" textLength="932" lengthAdjust="spacingAndGlyphs" transform="rotate(-90 1781 3700)">Relative protein express</text>
<rect x="1847.6" y="3283.7" width="91.7" height="49.6" fill="none" stroke="#383838" stroke-width="13.7"/>
<text x="2011" y="3333" font-family='"Liberation Serif",serif' font-size="96" textLength="205" lengthAdjust="spacingAndGlyphs">Sham</text>
<rect x="2225.2" y="3282" width="92.4" height="49.2" fill="none" stroke="#800000" stroke-width="13.7"/>
<text x="2385" y="3333" font-family='"Liberation Serif",serif' font-size="96" textLength="198" lengthAdjust="spacingAndGlyphs">MI/R</text>
<path d="M1955.6 3468.5H1997.5M1955.6 3565H1997.5M1955.6 3661.4H1997.5M1955.6 3757.8H1997.5M1955.6 3854.2H1997.5M1997.5 3463.4V3950.6M1955.6 3950.6H2636M2144.6 3950.6V3991M2484 3950.6V3991" stroke="#000" stroke-width="10.2" fill="none"/>
<path d="M2047.2 3945.5V3588.2H2118.1V3945.5" fill="none" stroke="#383838" stroke-width="14.4"/>
<path d="M2173.2 3945.5V3675.1H2243.4V3945.5" fill="none" stroke="#800000" stroke-width="14.4"/>
<path d="M2385.7 3945.5V3752.8H2455.8V3945.5" fill="none" stroke="#383838" stroke-width="14.4"/>
<path d="M2512.2 3945.5V3670.2H2583.4V3945.5" fill="none" stroke="#800000" stroke-width="14.4"/>
<path d="M2208.3 3633.4V3668M2192.7 3633.4H2225" stroke="#800000" stroke-width="3.2" fill="none"/>
<path d="M2420.8 3714V3748M2407 3714H2441" stroke="#000" stroke-width="3.2" fill="none"/>
<path d="M2546.7 3639.7V3664M2532.6 3639.7H2560.8" stroke="#800000" stroke-width="3.2" fill="none"/>
<path d="M2082 3578V3590M2066 3578H2098" stroke="#000" stroke-width="3" fill="none"/>
<circle cx="2054.8" cy="3587" r="14.4" fill="none" stroke="#000" stroke-width="9.3"/>
<circle cx="2082" cy="3580.8" r="14.4" fill="none" stroke="#000" stroke-width="9.3"/>
<circle cx="2109" cy="3587" r="14.4" fill="none" stroke="#000" stroke-width="9.3"/>
<circle cx="2180.8" cy="3649" r="14.4" fill="none" stroke="#000" stroke-width="9.3"/>
<circle cx="2235.6" cy="3649" r="14.4" fill="none" stroke="#000" stroke-width="9.3"/>
<circle cx="2208.3" cy="3706.4" r="14.4" fill="none" stroke="#000" stroke-width="9.3"/>
<circle cx="2393.8" cy="3721.8" r="14.4" fill="none" stroke="#000" stroke-width="9.3"/>
<circle cx="2448" cy="3735.9" r="14.4" fill="none" stroke="#000" stroke-width="9.3"/>
<circle cx="2420" cy="3776.5" r="14.4" fill="none" stroke="#000" stroke-width="9.3"/>
<circle cx="2520" cy="3649" r="14.4" fill="none" stroke="#000" stroke-width="9.3"/>
<circle cx="2574" cy="3650.6" r="14.4" fill="none" stroke="#000" stroke-width="9.3"/>
<circle cx="2546.7" cy="3690.7" r="14.4" fill="none" stroke="#000" stroke-width="9.3"/>
<path d="M2082 3515.3H2209.3M2082 3505V3526M2209.3 3505V3526" stroke="#000" stroke-width="2.6" fill="none"/>
<path d="M2423.6 3588.6H2550.8M2423.6 3578V3599.5M2550.8 3578V3599.5" stroke="#000" stroke-width="2.6" fill="none"/>
<text transform="translate(2115.1 3451.2) scale(0.969 1)" x="0" y="49.6" font-family='"DejaVu Sans","Liberation Sans",sans-serif' font-weight="bold" font-size="97.2" text-anchor="middle" fill="#000">*</text>
<text transform="translate(2177.8 3451.2) scale(0.969 1)" x="0" y="49.6" font-family='"DejaVu Sans","Liberation Sans",sans-serif' font-weight="bold" font-size="97.2" text-anchor="middle" fill="#000">*</text>
<text transform="translate(2456.3 3524.2) scale(0.961 1)" x="0" y="49.6" font-family='"DejaVu Sans","Liberation Sans",sans-serif' font-weight="bold" font-size="97.2" text-anchor="middle" fill="#000">*</text>
<text transform="translate(2518.5 3524.2) scale(0.961 1)" x="0" y="49.6" font-family='"DejaVu Sans","Liberation Sans",sans-serif' font-weight="bold" font-size="97.2" text-anchor="middle" fill="#000">*</text>
<text x="1943" y="3501.7" font-family='"Liberation Serif",serif' font-size="94" font-weight="bold" text-anchor="end" textLength="116" lengthAdjust="spacingAndGlyphs">1.0</text>
<text x="1943" y="3598.2" font-family='"Liberation Serif",serif' font-size="94" font-weight="bold" text-anchor="end" textLength="116" lengthAdjust="spacingAndGlyphs">0.8</text>
<text x="1943" y="3694.6" font-family='"Liberation Serif",serif' font-size="94" font-weight="bold" text-anchor="end" textLength="116" lengthAdjust="spacingAndGlyphs">0.6</text>
<text x="1943" y="3791" font-family='"Liberation Serif",serif' font-size="94" font-weight="bold" text-anchor="end" textLength="116" lengthAdjust="spacingAndGlyphs">0.4</text>
<text x="1943" y="3887.4" font-family='"Liberation Serif",serif' font-size="94" font-weight="bold" text-anchor="end" textLength="116" lengthAdjust="spacingAndGlyphs">0.2</text>
<text x="1943" y="3983.8" font-family='"Liberation Serif",serif' font-size="94" font-weight="bold" text-anchor="end" textLength="116" lengthAdjust="spacingAndGlyphs">0.0</text>
<text x="2174" y="4070" font-family='"Liberation Serif",serif' font-size="93" font-weight="bold" text-anchor="end" transform="rotate(-45 2174 4070)">GPX4</text>
<text x="2517" y="4070" font-family='"Liberation Serif",serif' font-size="93" font-weight="bold" text-anchor="end" transform="rotate(-45 2517 4070)">ACSL4</text>
</g>
<!-- Panel E -->
<g id="panelE">
<text x="2368" y="122.5" font-family='"Liberation Serif",serif' font-size="97" font-weight="bold">E</text>
<defs><filter id="eb" x="-5%" y="-5%" width="110%" height="110%"><feGaussianBlur stdDeviation="1.3"/></filter><filter id="eb2" x="-2%" y="-300%" width="104%" height="700%"><feGaussianBlur stdDeviation="1.6"/></filter><linearGradient id="cb" x1="0" y1="0" x2="0" y2="1"><stop offset="0" stop-color="#E8201A"/><stop offset="0.05" stop-color="#E43C1C"/><stop offset="0.3" stop-color="#DA6A20"/><stop offset="0.5" stop-color="#CC9428"/><stop offset="0.68" stop-color="#B8B42C"/><stop offset="0.82" stop-color="#A6CC2E"/><stop offset="1" stop-color="#7CF22E"/></linearGradient></defs>
<rect x="3391" y="68" width="1091" height="2857" fill="#fff"/>
<g filter="url(#eb)">
<path d="M3572 74V2921" stroke="#efeff3" stroke-width="2.5"/>
<path d="M3755 74V2921" stroke="#e4e4ea" stroke-width="3.2"/>
<path d="M3939 74V2921" stroke="#efeff3" stroke-width="2.5"/>
<path d="M4124 74V2921" stroke="#e4e4ea" stroke-width="3.2"/>
<path d="M4307.5 74V2921" stroke="#efeff3" stroke-width="2.5"/>
<path d="M3398 112H4477M3398 184.9H4477M3398 257.8H4477M3398 330.7H4477M3398 403.6H4477M3398 476.5H4477M3398 549.4H4477M3398 622.3H4477M3398 695.2H4477M3398 768.1H4477M3398 841H4477M3398 913.9H4477M3398 986.8H4477M3398 1059.7H4477M3398 1132.6H4477M3398 1205.5H4477M3398 1278.4H4477M3398 1351.3H4477M3398 1424.2H4477M3398 1497.1H4477M3398 1570H4477M3398 1642.9H4477M3398 1715.8H4477M3398 1788.7H4477M3398 1861.6H4477M3398 1934.5H4477M3398 2007.4H4477M3398 2080.3H4477M3398 2153.2H4477M3398 2226.1H4477M3398 2299H4477M3398 2371.9H4477M3398 2444.8H4477M3398 2517.7H4477M3398 2590.6H4477M3398 2663.5H4477M3398 2736.4H4477M3398 2809.3H4477M3398 2882.2H4477" stroke="#e2e2e9" stroke-width="5" fill="none"/>
</g>
<rect x="4482" y="68" width="71" height="2857" fill="#d9d9d9"/>
<path d="M3391 68H4553V2925H3391Z M4482 68V2925" fill="none" stroke="#383838" stroke-width="3.4"/>
<path d="M3378 112H3391M3378 184.9H3391M3378 257.8H3391M3378 330.7H3391M3378 403.6H3391M3378 476.5H3391M3378 549.4H3391M3378 622.3H3391M3378 695.2H3391M3378 768.1H3391M3378 841H3391M3378 913.9H3391M3378 986.8H3391M3378 1059.7H3391M3378 1132.6H3391M3378 1205.5H3391M3378 1278.4H3391M3378 1351.3H3391M3378 1424.2H3391M3378 1497.1H3391M3378 1570H3391M3378 1642.9H3391M3378 1715.8H3391M3378 1788.7H3391M3378 1861.6H3391M3378 1934.5H3391M3378 2007.4H3391M3378 2080.3H3391M3378 2153.2H3391M3378 2226.1H3391M3378 2299H3391M3378 2371.9H3391M3378 2444.8H3391M3378 2517.7H3391M3378 2590.6H3391M3378 2663.5H3391M3378 2736.4H3391M3378 2809.3H3391M3378 2882.2H3391" stroke="#222" stroke-width="3.6" fill="none"/>
<g filter="url(#eb)">
<text x="3369" y="129" font-family='"Liberation Sans",sans-serif' font-size="48.4" text-anchor="end" textLength="338.2" lengthAdjust="spacingAndGlyphs" fill="#060606" xml:space="preserve" stroke="#060606" stroke-width="0.8">Parkinson disease</text>
<text x="3369" y="201.9" font-family='"Liberation Sans",sans-serif' font-size="48.4" text-anchor="end" textLength="250.7" lengthAdjust="spacingAndGlyphs" fill="#060606" xml:space="preserve" stroke="#060606" stroke-width="0.8">Prion disease</text>
<text x="3369" y="274.8" font-family='"Liberation Sans",sans-serif' font-size="48.4" text-anchor="end" textLength="285.2" lengthAdjust="spacingAndGlyphs" fill="#060606" xml:space="preserve" stroke="#060606" stroke-width="0.8">Thermogenesis</text>
<text x="3369" y="347.7" font-family='"Liberation Sans",sans-serif' font-size="48.4" text-anchor="end" textLength="453.1" lengthAdjust="spacingAndGlyphs" fill="#060606" xml:space="preserve" stroke="#060606" stroke-width="0.8">Diabetic cardiomyopathy</text>
<text x="3369" y="420.6" font-family='"Liberation Sans",sans-serif' font-size="48.4" text-anchor="end" textLength="950" lengthAdjust="spacingAndGlyphs" fill="#060606" xml:space="preserve" stroke="#060606" stroke-width="0.8">Chemical carcinogenesis -  reactive oxygen species</text>
<text x="3369" y="493.5" font-family='"Liberation Sans",sans-serif' font-size="48.4" text-anchor="end" textLength="593.4" lengthAdjust="spacingAndGlyphs" fill="#060606" xml:space="preserve" stroke="#060606" stroke-width="0.8">Non- alcoholic fatty liver disease</text>
<text x="3369" y="566.4" font-family='"Liberation Sans",sans-serif' font-size="48.4" text-anchor="end" textLength="476.2" lengthAdjust="spacingAndGlyphs" fill="#060606" xml:space="preserve" stroke="#060606" stroke-width="0.8">Oxidative phosphorylation</text>
<text x="3369" y="639.3" font-family='"Liberation Sans",sans-serif' font-size="48.4" text-anchor="end" textLength="358.8" lengthAdjust="spacingAndGlyphs" fill="#060606" xml:space="preserve" stroke="#060606" stroke-width="0.8">Carbon metabolism</text>
<text x="3369" y="712.2" font-family='"Liberation Sans",sans-serif' font-size="48.4" text-anchor="end" textLength="177.1" lengthAdjust="spacingAndGlyphs" fill="#060606" xml:space="preserve" stroke="#060606" stroke-width="0.8">Cell cycle</text>
<text x="3369" y="785.1" font-family='"Liberation Sans",sans-serif' font-size="48.4" text-anchor="end" textLength="499.1" lengthAdjust="spacingAndGlyphs" fill="#060606" xml:space="preserve" stroke="#060606" stroke-width="0.8">Cardiac muscle contraction</text>
<text x="3369" y="858" font-family='"Liberation Sans",sans-serif' font-size="48.4" text-anchor="end" textLength="432.4" lengthAdjust="spacingAndGlyphs" fill="#060606" xml:space="preserve" stroke="#060606" stroke-width="0.8">Dilated cardiomyopathy</text>
<text x="3369" y="930.9" font-family='"Liberation Sans",sans-serif' font-size="48.4" text-anchor="end" textLength="1030.5" lengthAdjust="spacingAndGlyphs" fill="#060606" xml:space="preserve" stroke="#060606" stroke-width="0.8">AGE- RAGE signaling pathway in diabetic complications</text>
<text x="3369" y="1003.8" font-family='"Liberation Sans",sans-serif' font-size="48.4" text-anchor="end" textLength="685.4" lengthAdjust="spacingAndGlyphs" fill="#060606" xml:space="preserve" stroke="#060606" stroke-width="0.8">Fc gamma R- mediated phagocytosis</text>
<text x="3369" y="1076.7" font-family='"Liberation Sans",sans-serif' font-size="48.4" text-anchor="end" textLength="538.2" lengthAdjust="spacingAndGlyphs" fill="#060606" xml:space="preserve" stroke="#060606" stroke-width="0.8">Hypertrophic cardiomyopathy</text>
<text x="3369" y="1149.6" font-family='"Liberation Sans",sans-serif' font-size="48.4" text-anchor="end" textLength="218.5" lengthAdjust="spacingAndGlyphs" fill="#060606" xml:space="preserve" stroke="#060606" stroke-width="0.8">Peroxisome</text>
<text x="3369" y="1222.5" font-family='"Liberation Sans",sans-serif' font-size="48.4" text-anchor="end" textLength="772.3" lengthAdjust="spacingAndGlyphs" fill="#060606" xml:space="preserve" stroke="#060606" stroke-width="0.8">Valine, leucine and isoleucine degradation</text>
<text x="3369" y="1295.4" font-family='"Liberation Sans",sans-serif' font-size="48.4" text-anchor="end" textLength="409.5" lengthAdjust="spacingAndGlyphs" fill="#060606" xml:space="preserve" stroke="#060606" stroke-width="0.8">p53 signaling pathway</text>
<text x="3369" y="1368.3" font-family='"Liberation Sans",sans-serif' font-size="48.4" text-anchor="end" textLength="262.2" lengthAdjust="spacingAndGlyphs" fill="#060606" xml:space="preserve" stroke="#060606" stroke-width="0.8">Leishmaniasis</text>
<text x="3369" y="1441.2" font-family='"Liberation Sans",sans-serif' font-size="48.4" text-anchor="end" textLength="639.5" lengthAdjust="spacingAndGlyphs" fill="#060606" xml:space="preserve" stroke="#060606" stroke-width="0.8">Bacterial invasion of epithelial cells</text>
<text x="3369" y="1514.1" font-family='"Liberation Sans",sans-serif' font-size="48.4" text-anchor="end" textLength="402.5" lengthAdjust="spacingAndGlyphs" fill="#060606" xml:space="preserve" stroke="#060606" stroke-width="0.8">Fatty acid metabolism</text>
<text x="3369" y="1587" font-family='"Liberation Sans",sans-serif' font-size="48.4" text-anchor="end" textLength="673.9" lengthAdjust="spacingAndGlyphs" fill="#060606" xml:space="preserve" stroke="#060606" stroke-width="0.8">Central carbon metabolism in cancer</text>
<text x="3369" y="1659.9" font-family='"Liberation Sans",sans-serif' font-size="48.4" text-anchor="end" textLength="135.7" lengthAdjust="spacingAndGlyphs" fill="#060606" xml:space="preserve" stroke="#060606" stroke-width="0.8">Malaria</text>
<text x="3369" y="1732.8" font-family='"Liberation Sans",sans-serif' font-size="48.4" text-anchor="end" textLength="239.3" lengthAdjust="spacingAndGlyphs" fill="#060606" xml:space="preserve" stroke="#060606" stroke-width="0.8">Legionellosis</text>
<text x="3369" y="1805.7" font-family='"Liberation Sans",sans-serif' font-size="48.4" text-anchor="end" textLength="409.5" lengthAdjust="spacingAndGlyphs" fill="#060606" xml:space="preserve" stroke="#060606" stroke-width="0.8">Fatty acid degradation</text>
<text x="3369" y="1878.6" font-family='"Liberation Sans",sans-serif' font-size="48.4" text-anchor="end" textLength="386.4" lengthAdjust="spacingAndGlyphs" fill="#060606" xml:space="preserve" stroke="#060606" stroke-width="0.8">Pyruvate metabolism</text>
<text x="3369" y="1951.5" font-family='"Liberation Sans",sans-serif' font-size="48.4" text-anchor="end" textLength="453" lengthAdjust="spacingAndGlyphs" fill="#060606" xml:space="preserve" stroke="#060606" stroke-width="0.8">Citrate cycle (TCA cycle)</text>
<text x="3369" y="2024.4" font-family='"Liberation Sans",sans-serif' font-size="48.4" text-anchor="end" textLength="437.1" lengthAdjust="spacingAndGlyphs" fill="#060606" xml:space="preserve" stroke="#060606" stroke-width="0.8">Propanoate metabolism</text>
<text x="3369" y="2097.3" font-family='"Liberation Sans",sans-serif' font-size="48.4" text-anchor="end" textLength="285.2" lengthAdjust="spacingAndGlyphs" fill="#060606" xml:space="preserve" stroke="#060606" stroke-width="0.8">DNA replication</text>
<text x="3369" y="2170.2" font-family='"Liberation Sans",sans-serif' font-size="48.4" text-anchor="end" textLength="646.3" lengthAdjust="spacingAndGlyphs" fill="#060606" xml:space="preserve" stroke="#060606" stroke-width="0.8">Fructose and mannose metabolism</text>
<text x="3369" y="2243.1" font-family='"Liberation Sans",sans-serif' font-size="48.4" text-anchor="end" textLength="278.3" lengthAdjust="spacingAndGlyphs" fill="#060606" xml:space="preserve" stroke="#060606" stroke-width="0.8">Bladder cancer</text>
<text x="3369" y="2316" font-family='"Liberation Sans",sans-serif' font-size="48.4" text-anchor="end" textLength="409.4" lengthAdjust="spacingAndGlyphs" fill="#060606" xml:space="preserve" stroke="#060606" stroke-width="0.8">Galactose metabolism</text>
<text x="3369" y="2388.9" font-family='"Liberation Sans",sans-serif' font-size="48.4" text-anchor="end" textLength="207" lengthAdjust="spacingAndGlyphs" fill="#060606" xml:space="preserve" stroke="#060606" stroke-width="0.8">Ferroptosis</text>
<text x="3369" y="2461.8" font-family='"Liberation Sans",sans-serif' font-size="48.4" text-anchor="end" textLength="464.7" lengthAdjust="spacingAndGlyphs" fill="#060606" xml:space="preserve" stroke="#060606" stroke-width="0.8">beta- Alanine metabolism</text>
<text x="3369" y="2534.7" font-family='"Liberation Sans",sans-serif' font-size="48.4" text-anchor="end" textLength="411.8" lengthAdjust="spacingAndGlyphs" fill="#060606" xml:space="preserve" stroke="#060606" stroke-width="0.8">Butanoate metabolism</text>
<text x="3369" y="2607.6" font-family='"Liberation Sans",sans-serif' font-size="48.4" text-anchor="end" textLength="618.7" lengthAdjust="spacingAndGlyphs" fill="#060606" xml:space="preserve" stroke="#060606" stroke-width="0.8">2- Oxocarboxylic acid metabolism</text>
<text x="3369" y="2680.5" font-family='"Liberation Sans",sans-serif' font-size="48.4" text-anchor="end" textLength="294.3" lengthAdjust="spacingAndGlyphs" fill="#060606" xml:space="preserve" stroke="#060606" stroke-width="0.8">Mismatch repair</text>
<text x="3369" y="2753.4" font-family='"Liberation Sans",sans-serif' font-size="48.4" text-anchor="end" textLength="418.6" lengthAdjust="spacingAndGlyphs" fill="#060606" xml:space="preserve" stroke="#060606" stroke-width="0.8">Fatty acid biosynthesis</text>
<text x="3369" y="2826.3" font-family='"Liberation Sans",sans-serif' font-size="48.4" text-anchor="end" textLength="545.2" lengthAdjust="spacingAndGlyphs" fill="#060606" xml:space="preserve" stroke="#060606" stroke-width="0.8">Selenocompound metabolism</text>
<text x="3369" y="2899.2" font-family='"Liberation Sans",sans-serif' font-size="48.4" text-anchor="end" textLength="331.2" lengthAdjust="spacingAndGlyphs" fill="#060606" xml:space="preserve" stroke="#060606" stroke-width="0.8">Sulfur metabolism</text>
</g>
<g filter="url(#eb)">
<ellipse cx="4433" cy="112" rx="20.8" ry="24.1" fill="#D9681F"/>
<ellipse cx="4388" cy="184.9" rx="18.8" ry="21.8" fill="#D2922A"/>
<ellipse cx="4351.5" cy="257.8" rx="22.8" ry="26.4" fill="#DC5F1E"/>
<ellipse cx="4336" cy="330.7" rx="24.8" ry="28.7" fill="#E00A1C"/>
<ellipse cx="4248" cy="403.6" rx="20.8" ry="24.1" fill="#D4952C"/>
<ellipse cx="4108.6" cy="476.5" rx="25.7" ry="29.9" fill="#DA6E1F"/>
<ellipse cx="4042.5" cy="549.4" rx="26.7" ry="31" fill="#D8711F"/>
<ellipse cx="3851.7" cy="622.3" rx="20.8" ry="24.1" fill="#B5CC2D"/>
<ellipse cx="3829" cy="695.2" rx="17.8" ry="20.7" fill="#A4D930"/>
<ellipse cx="3741.5" cy="768.1" rx="22.3" ry="25.9" fill="#A8C82C"/>
<ellipse cx="3726" cy="841" rx="19.8" ry="23" fill="#96DC32"/>
<ellipse cx="3726" cy="913.9" rx="15.8" ry="18.4" fill="#90E032"/>
<ellipse cx="3719" cy="986.8" rx="18.8" ry="21.8" fill="#92DE32"/>
<ellipse cx="3712" cy="1059.7" rx="18.8" ry="21.8" fill="#94DC32"/>
<ellipse cx="3689.5" cy="1132.6" rx="18.3" ry="21.3" fill="#90E032"/>
<ellipse cx="3667.5" cy="1205.5" rx="27.7" ry="32.2" fill="#A6B628"/>
<ellipse cx="3653" cy="1278.4" rx="19.8" ry="23" fill="#90E030"/>
<ellipse cx="3645.5" cy="1351.3" rx="19.8" ry="23" fill="#8CE232"/>
<ellipse cx="3645.5" cy="1424.2" rx="16.3" ry="19" fill="#8EE232"/>
<ellipse cx="3638.8" cy="1497.1" rx="22.8" ry="26.4" fill="#98D830"/>
<ellipse cx="3616" cy="1570" rx="12.4" ry="14.4" fill="#8EE232"/>
<ellipse cx="3600.8" cy="1642.9" rx="19.8" ry="23" fill="#8CE432"/>
<ellipse cx="3594" cy="1715.8" rx="16.3" ry="19" fill="#8CE432"/>
<ellipse cx="3594" cy="1788.7" rx="22.8" ry="26.4" fill="#90E232"/>
<ellipse cx="3572" cy="1861.6" rx="24.3" ry="28.2" fill="#8CE432"/>
<ellipse cx="3571.5" cy="1934.5" rx="31.2" ry="36.2" fill="#A6C828"/>
<ellipse cx="3564" cy="2007.4" rx="31.2" ry="36.2" fill="#A8C628"/>
<ellipse cx="3542" cy="2080.3" rx="25.7" ry="29.9" fill="#92E032"/>
<ellipse cx="3527.4" cy="2153.2" rx="22.3" ry="25.9" fill="#88E832"/>
<ellipse cx="3527.4" cy="2226.1" rx="16.3" ry="19" fill="#84EA32"/>
<ellipse cx="3520.7" cy="2299" rx="23.8" ry="27.6" fill="#8CE232"/>
<ellipse cx="3520" cy="2371.9" rx="13.4" ry="15.5" fill="#84EA32"/>
<ellipse cx="3498" cy="2444.8" rx="16.8" ry="19.5" fill="#84EA32"/>
<ellipse cx="3491" cy="2517.7" rx="21.8" ry="25.3" fill="#82EC32"/>
<ellipse cx="3484" cy="2590.6" rx="27.2" ry="31.6" fill="#88E632"/>
<ellipse cx="3476.6" cy="2663.5" rx="22.8" ry="26.4" fill="#80EC32"/>
<ellipse cx="3461" cy="2736.4" rx="21.8" ry="25.3" fill="#7EEE32"/>
<ellipse cx="3454" cy="2809.3" rx="22.4" ry="26" fill="#7CEE32"/>
<ellipse cx="3439" cy="2882.2" rx="27.2" ry="31.6" fill="#7AF030"/>
</g>
<rect x="3110" y="2343.5" width="273" height="58" rx="9" fill="none" stroke="#9a1b22" stroke-width="3.4"/>
<g filter="url(#eb)">
<text x="3755" y="2987" font-family='"Liberation Sans",sans-serif' font-size="46" text-anchor="middle" textLength="46" lengthAdjust="spacingAndGlyphs" fill="#111">50</text>
<text x="4124" y="2987" font-family='"Liberation Sans",sans-serif' font-size="46" text-anchor="middle" textLength="68" lengthAdjust="spacingAndGlyphs" fill="#111">100</text>
<text transform="translate(4502,1436.5) rotate(90)" font-family='"Liberation Sans",sans-serif' font-size="45.5" textLength="123" lengthAdjust="spacingAndGlyphs" fill="#111">KEGG</text>
<text x="4624" y="1031.8" font-family='"Liberation Sans",sans-serif' font-size="44" textLength="99" lengthAdjust="spacingAndGlyphs" fill="#111">count</text>
<ellipse cx="4657.5" cy="1105" rx="17" ry="20.5" fill="#000"/>
<text x="4715" y="1119" font-family='"Liberation Sans",sans-serif' font-size="39" textLength="51" lengthAdjust="spacingAndGlyphs" fill="#111">2.0</text>
<ellipse cx="4657.5" cy="1189.4" rx="23" ry="27" fill="#000"/>
<text x="4715" y="1203.4" font-family='"Liberation Sans",sans-serif' font-size="39" textLength="51" lengthAdjust="spacingAndGlyphs" fill="#111">2.4</text>
<ellipse cx="4657.5" cy="1274" rx="26" ry="31" fill="#000"/>
<text x="4715" y="1288" font-family='"Liberation Sans",sans-serif' font-size="39" textLength="51" lengthAdjust="spacingAndGlyphs" fill="#111">2.8</text>
<ellipse cx="4657.5" cy="1359" rx="29.5" ry="35.5" fill="#000"/>
<text x="4715" y="1373" font-family='"Liberation Sans",sans-serif' font-size="39" textLength="51" lengthAdjust="spacingAndGlyphs" fill="#111">3.2</text>
<text x="4623" y="1548" font-family='"Liberation Sans",sans-serif' font-size="42.5" textLength="271" lengthAdjust="spacingAndGlyphs" fill="#111">- log10(pvalue)</text>
<rect x="4622" y="1580" width="74" height="416" fill="url(#cb)"/>
<path d="M4622 1730H4634M4684 1730H4696M4622 1876.7H4634M4684 1876.7H4696" stroke="#f2e8a0" stroke-width="2.5"/>
<text x="4715" y="1598.5" font-family='"Liberation Sans",sans-serif' font-size="39" textLength="37" lengthAdjust="spacingAndGlyphs" fill="#111">30</text>
<text x="4715" y="1744" font-family='"Liberation Sans",sans-serif' font-size="39" textLength="37" lengthAdjust="spacingAndGlyphs" fill="#111">20</text>
<text x="4715" y="1890.7" font-family='"Liberation Sans",sans-serif' font-size="39" textLength="37" lengthAdjust="spacingAndGlyphs" fill="#111">10</text>
</g>
</g>
<!-- Panel F -->
<g id="panelF">
<text x="3081" y="3141.6" font-family='"Liberation Serif",serif' font-size="97" font-weight="bold">F</text>
<text x="3342.8" y="3697.7" font-family='"Liberation Serif",serif' font-size="99" font-weight="bold" text-anchor="middle" textLength="1219" lengthAdjust="spacingAndGlyphs" transform="rotate(-90 3342.8 3697.7)">Relative ANRIL mRNA level</text>
<circle cx="3447.8" cy="3291.3" r="15.3" fill="none" stroke="#000" stroke-width="10.3"/>
<text x="3570.5" y="3320" font-family='"Liberation Serif",serif' font-size="100" textLength="213" lengthAdjust="spacingAndGlyphs">Sham</text>
<circle cx="3841.7" cy="3290" r="15.3" fill="none" stroke="#800000" stroke-width="10.3"/>
<text x="3960" y="3318.5" font-family='"Liberation Serif",serif' font-size="99" textLength="209" lengthAdjust="spacingAndGlyphs">MI/R</text>
<path d="M3605.7 3450.6V3960.5M3560.6 3455.9H3605.7M3560.6 3624.2H3605.7M3560.6 3792.4H3605.7M3560.6 3960.5H4266M3792 3960.5V4005M4073 3960.5V4005" stroke="#000" stroke-width="10.6" fill="none"/>
<path d="M3707.2 3955.2V3632.3H3879.7V3955.2" fill="none" stroke="#363636" stroke-width="15"/>
<path d="M3988 3956V3934.5H4160.5V3956" fill="none" stroke="#800000" stroke-width="13"/>
<path d="M3745.8 3619.8H3839.8" stroke="#000" stroke-width="5" fill="none"/>
<path d="M4028 3929H4118" stroke="#800000" stroke-width="4.5" fill="none"/>
<circle cx="3793" cy="3624" r="15.4" fill="none" stroke="#000" stroke-width="10.2"/>
<circle cx="4073" cy="3927" r="15.4" fill="none" stroke="#800000" stroke-width="10.2"/>
<path d="M3792.4 3541.4H4073.9M3792.4 3530.2V3553.5M4073.9 3530.2V3553.5" stroke="#000" stroke-width="2.6" fill="none"/>
<text transform="translate(3897.5 3466.2) scale(0.920 1)" x="0" y="65.6" font-family='"DejaVu Sans","Liberation Sans",sans-serif' font-weight="bold" font-size="128.5" text-anchor="middle" fill="#000">*</text>
<text transform="translate(3974.1 3466.2) scale(0.927 1)" x="0" y="65.6" font-family='"DejaVu Sans","Liberation Sans",sans-serif' font-weight="bold" font-size="128.5" text-anchor="middle" fill="#000">*</text>
<text x="3548.5" y="3492.2" font-family='"Liberation Serif",serif' font-size="101" font-weight="bold" text-anchor="end" textLength="142.2" lengthAdjust="spacingAndGlyphs">150</text>
<text x="3548.5" y="3660.5" font-family='"Liberation Serif",serif' font-size="101" font-weight="bold" text-anchor="end" textLength="142.2" lengthAdjust="spacingAndGlyphs">100</text>
<text x="3548.5" y="3828.7" font-family='"Liberation Serif",serif' font-size="101" font-weight="bold" text-anchor="end" textLength="94.8" lengthAdjust="spacingAndGlyphs">50</text>
<text x="3548.5" y="3996.8" font-family='"Liberation Serif",serif' font-size="101" font-weight="bold" text-anchor="end" textLength="47.4" lengthAdjust="spacingAndGlyphs">0</text>
<text x="3826" y="4095" font-family='"Liberation Serif",serif' font-size="101" font-weight="bold" text-anchor="end" transform="rotate(-45 3826 4095)">Sham</text>
<text x="4108" y="4095" font-family='"Liberation Serif",serif' font-size="101" font-weight="bold" text-anchor="end" transform="rotate(-45 4108 4095)">MI/R</text>
</g>
</svg>
</body></html>
